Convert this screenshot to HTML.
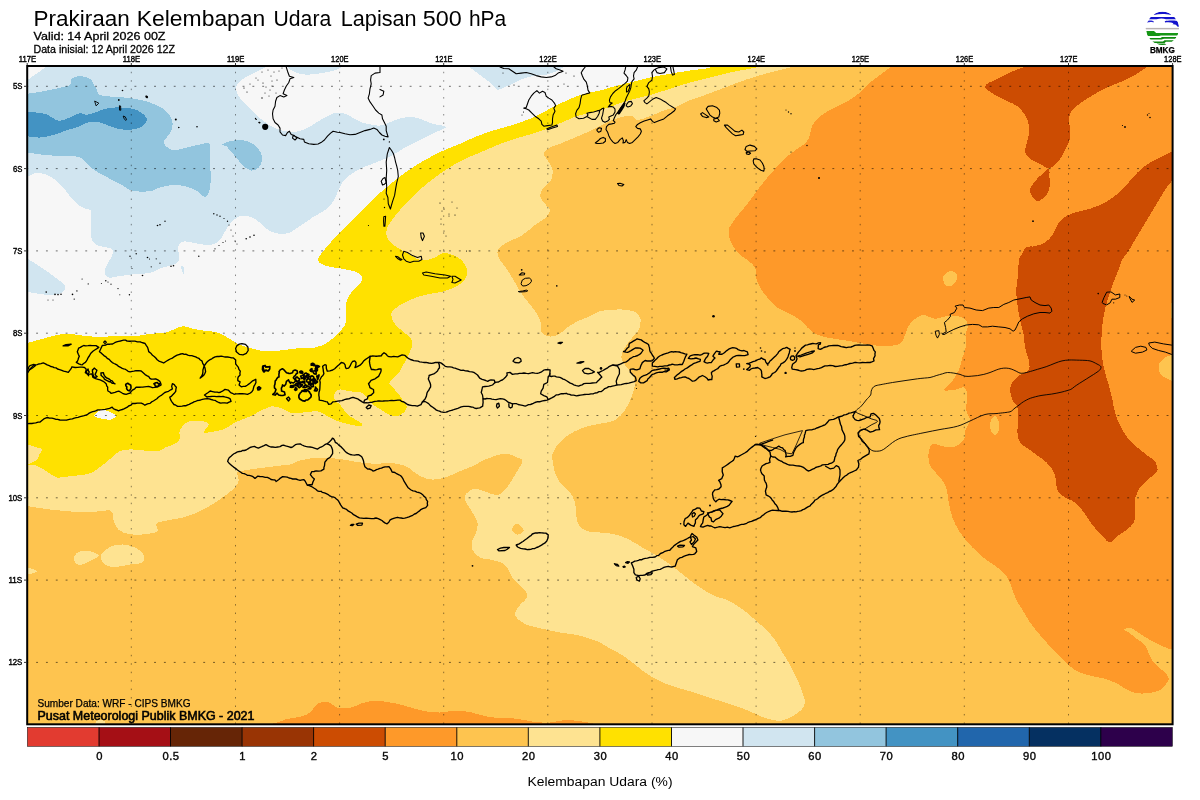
<!DOCTYPE html>
<html><head><meta charset="utf-8"><title>Prakiraan Kelembapan Udara Lapisan 500 hPa</title>
<style>html,body{margin:0;padding:0;background:#fff;}body{width:1200px;height:800px;overflow:hidden;}svg{display:block;will-change:transform;}text{font-family:"Liberation Sans",sans-serif;fill:#000;}</style>
</head><body>
<svg width="1200" height="800" viewBox="0 0 1200 800">
<rect x="0" y="0" width="1200" height="800" fill="#ffffff"/>
<defs><clipPath id="mapclip"><rect x="27.2" y="66" width="1145.4" height="658.3"/></clipPath></defs>
<g clip-path="url(#mapclip)">
<g shape-rendering="crispEdges">
<rect x="20" y="55" width="1165" height="680" fill="#fec44f"/>
<path fill="#fe9929" d="M890 55L890 67.5C890 67.5 883.3 72.5 880 75C876.7 77.5 873.3 79.6 870 82.5C866.7 85.4 863.8 89.4 860 92.5C856.2 95.6 852.1 98.5 847.5 101.2C842.9 104 837.1 106.2 832.5 108.8C827.9 111.2 823.3 113.5 820 116.2C816.7 119 814.2 121.9 812.5 125C810.8 128.1 811 132.1 810 135C809 137.9 808.3 140.2 806.2 142.5C804.2 144.8 800.6 146.5 797.5 148.8C794.4 151 790.8 153.3 787.5 156.2C784.2 159.2 780.8 162.7 777.5 166.2C774.2 169.8 770.8 173.5 767.5 177.5C764.2 181.5 760.8 185.6 757.5 190C754.2 194.4 751 199.2 747.5 203.8C744 208.3 739 213.8 736.2 217.5C733.5 221.2 730.6 224.9 729.5 227.5C728.4 230.1 728.3 232.2 728.8 235C729.2 237.8 730.6 241.7 732.5 245C734.4 248.3 737.6 252.6 740 255C742.4 257.4 745 257.9 747.5 260C750 262.1 753.5 264.6 755 267.5C756.5 270.4 755.4 274.2 756.2 277.5C757.1 280.8 758.1 284.2 760 287.5C761.9 290.8 764.6 294.2 767.5 297.5C770.4 300.8 773.8 304.8 777.5 307.5C781.2 310.2 786.2 311.7 790 313.8C793.8 315.8 797.1 317.7 800 320C802.9 322.3 805 325.2 807.5 327.5C810 329.8 811.7 332.1 815 333.8C818.3 335.4 822.9 336.5 827.5 337.5C832.1 338.5 837.5 339.2 842.5 340C847.5 340.8 852.5 341.7 857.5 342.5C862.5 343.3 867.9 344.4 872.5 345C877.1 345.6 880.4 346.5 885 346.2C889.6 346 896.7 345.6 900 343.8C903.3 341.9 903.3 338.3 905 335C906.7 331.7 907.1 327.1 910 323.8C912.9 320.4 918.3 315.8 922.5 315C926.7 314.2 930.4 318.7 935 318.8C939.6 318.8 945.4 315.7 950 315.5C954.6 315.3 959.5 315.9 962.5 317.5C965.5 319.1 967.5 322.1 968 325C968.5 327.9 965.8 331.7 965.5 335C965.2 338.3 966.8 341.2 966.2 345C965.8 348.8 963.8 353.3 962.5 357.5C961.2 361.7 960.6 365.8 958.8 370C956.9 374.2 953.7 379.3 951.2 382.5C948.8 385.7 943.3 388.8 943.8 390C944.2 391.2 950.3 390.4 953.8 390C957.2 389.6 962.3 386.5 964.5 387.5C966.7 388.5 966.7 392.8 967 396.2C967.3 399.7 965.8 406 966.2 410C966.8 414 970.1 416.7 970 420C969.9 423.3 966.5 426.7 965.5 430C964.5 433.3 965.7 437.2 963.8 440C961.8 442.8 957.3 446 953.8 447C950.2 448 946 446.8 942.5 446.2C939 445.7 934.8 442.7 932.5 443.8C930.2 444.8 929.4 449.8 928.8 452.5C928.1 455.2 928.3 457.5 928.8 460C929.2 462.5 929.6 465 931.2 467.5C932.9 470 937.5 474.2 940 477.5C942.5 480.8 944.8 483.3 946.2 487.5C947.7 491.7 947.7 497.5 948.8 502.5C949.8 507.5 950.6 512.5 952.5 517.5C954.4 522.5 956.7 527.5 960 532.5C963.3 537.5 968.3 543.1 972.5 547.5C976.7 551.9 980.8 555.4 985 558.8C989.2 562.1 993.8 564.4 997.5 567.5C1001.2 570.6 1005 573.8 1007.5 577.5C1010 581.2 1010.9 586.1 1012.5 590C1014.1 593.9 1015.3 597.7 1017 601C1018.7 604.3 1020.4 606.6 1022.5 610C1024.6 613.4 1027.1 618.3 1030 622.5C1032.9 626.7 1036.7 631 1040 635C1043.3 639 1046.7 642.7 1050 646.2C1053.3 649.8 1056.7 652.9 1060 656.2C1063.3 659.6 1066.7 663.5 1070 666.2C1073.3 669 1076.2 670.8 1080 672.5C1083.8 674.2 1088.3 675.2 1092.5 676.2C1096.7 677.3 1100.8 677.5 1105 678.8C1109.2 680 1113.8 681.9 1117.5 683.8C1121.2 685.6 1124.2 688.4 1127.5 690C1130.8 691.6 1133.8 692.8 1137.5 693.2C1141.2 693.8 1146.2 693.5 1150 693C1153.8 692.5 1157.3 691.5 1160 690C1162.7 688.5 1164.9 685.4 1166.2 683.8C1167.6 682.1 1169 680.6 1168.8 678.8C1168.5 676.9 1166.9 674.6 1165 672.5C1163.1 670.4 1159.8 668.5 1157.5 666.2C1155.2 664 1152.9 661.5 1151.2 658.8C1149.6 656 1148.7 652.5 1147.5 650C1146.3 647.5 1145.7 645.7 1143.8 643.8C1141.8 641.8 1137.4 639.3 1135 637.5C1132.6 635.7 1130.6 633.8 1128.8 632.5C1126.9 631.2 1123.3 630.2 1123.8 629.5C1124.2 628.8 1128.5 627.5 1131.2 628.2C1134 629 1136.9 631.8 1140 633.8C1143.1 635.7 1146.7 638.1 1150 640C1153.3 641.9 1156.9 643.5 1160 645C1163.1 646.5 1167.4 648.3 1168.8 648.8C1170.1 649.2 1172.5 649.5 1172.5 649.5L1185 649.5L1185 55L890 55Z"/>
<path fill="#fe9929" d="M270 735L270 724C270 724 274.7 723.3 277.5 722.5C280.3 721.7 283.8 719.7 287.5 718.8C291.2 717.8 296.2 718 300 717C303.8 716 307.1 714.7 310 712.5C312.9 710.3 314.6 705.5 317.5 703.8C320.4 702 324.2 701.4 327.5 702C330.8 702.6 333.8 706.5 337.5 707.5C341.2 708.5 345.8 708.8 350 708C354.2 707.2 358.3 704.2 362.5 703C366.7 701.8 370.8 700.9 375 700.8C379.2 700.6 383.3 701.4 387.5 702C391.7 702.6 395.8 703.5 400 704.5C404.2 705.5 408.3 706.9 412.5 708C416.7 709.1 420.4 710.5 425 711.2C429.6 712 435 712.6 440 712.5C445 712.4 450 710.8 455 710.8C460 710.7 465 711.1 470 712C475 712.9 480 715.2 485 716.2C490 717.2 494.6 717.6 500 718C505.4 718.4 511.7 718.1 517.5 718.8C523.3 719.4 529.6 721.4 535 722C540.4 722.6 545 722.8 550 722.5C555 722.2 560 720.2 565 720C570 719.8 575 720.6 580 721.2C585 721.9 595 723.8 595 723.8L600 735L270 735Z"/>
<path fill="#fec44f" d="M943 279C942.8 277 943.8 275.3 945 274C946.2 272.7 948.2 271.2 950 271C951.8 270.8 954.8 271.7 956 273C957.2 274.3 957.5 277 957 279C956.5 281 954.8 283.8 953 285C951.2 286.2 947.7 287 946 286C944.3 285 943.2 281 943 279Z"/>
<path fill="#fec44f" d="M990 426C989.9 423.7 990.7 420.6 991.5 419C992.3 417.4 993.8 415.7 995 416C996.2 416.3 997.9 418.8 998.5 421C999.1 423.2 999.4 427.8 999 430C998.6 432.2 997.2 434.5 996 435C994.8 435.5 992.9 434.4 992 433C991.1 431.6 990.1 428.3 990 426Z"/>
<path fill="#fec44f" d="M1185 355L1172.5 355C1172.5 355 1167.3 355.8 1165 357.5C1162.7 359.2 1159.4 362.1 1158.8 365C1158.1 367.9 1159 372.3 1161.2 375C1163.5 377.7 1172.5 381.2 1172.5 381.2L1185 381.2L1185 355Z"/>
<path fill="#fec44f" d="M1185 301L1172 301C1172 301 1170.5 306.8 1170.5 310C1170.5 313.2 1172 320 1172 320L1185 320L1185 301Z"/>
<path fill="#cc4c02" d="M1022.5 55L1022.5 67.5C1022.5 67.5 1014.2 70.6 1010 72.5C1005.8 74.4 1001.7 76.5 997.5 78.8C993.3 81 985.4 83.5 985 86.2C984.6 89 991.2 92.5 995 95C998.8 97.5 1003.8 99.4 1007.5 101.2C1011.2 103.1 1014.6 104 1017.5 106.2C1020.4 108.5 1023.1 111.9 1025 115C1026.9 118.1 1028.1 121.7 1028.8 125C1029.4 128.3 1029.2 131.7 1028.8 135C1028.3 138.3 1026.9 142.2 1026.2 145C1025.6 147.8 1024.4 150.2 1025 152.5C1025.6 154.8 1027.6 156.9 1030 158.8C1032.4 160.6 1036.9 162.2 1040 163.8C1043.1 165.3 1045.8 168.2 1048.8 168C1051.7 167.8 1055 165.1 1057.5 162.5C1060 159.9 1061.9 155.8 1063.8 152.5C1065.6 149.2 1067.7 145.2 1068.8 142.5C1069.8 139.8 1070.4 137.9 1070.5 135C1070.6 132.1 1069.6 128.5 1069.5 125C1069.4 121.5 1069.1 116.7 1070 113.8C1070.9 110.8 1072.8 109.6 1075 107.5C1077.2 105.4 1081.2 102.5 1085 100C1088.8 97.5 1093.3 94.8 1097.5 92.5C1101.7 90.2 1105.8 88.1 1110 86.2C1114.2 84.4 1118.3 83.1 1122.5 81.2C1126.7 79.4 1131 77.3 1135 75C1139 72.7 1146.2 67.5 1146.2 67.5L1146.2 55L1022.5 55Z"/>
<path fill="#cc4c02" d="M1048.8 168.8C1047.6 168.1 1044.8 171.7 1042.5 173.8C1040.2 175.8 1037.1 178.3 1035 181.2C1032.9 184.2 1029.7 187.9 1030 191.2C1030.3 194.6 1034.3 200.6 1037 201.2C1039.7 201.9 1044.2 197.3 1046.2 195C1048.3 192.7 1049 190.4 1049.5 187.5C1050 184.6 1049.6 180.6 1049.5 177.5C1049.4 174.4 1049.9 169.4 1048.8 168.8Z"/>
<path fill="#cc4c02" d="M1185 151.2L1172.5 151.2C1172.5 151.2 1166.2 154.4 1162.5 156.2C1158.8 158.1 1154.2 159.8 1150 162.5C1145.8 165.2 1141.2 169 1137.5 172.5C1133.8 176 1130.8 180.2 1127.5 183.8C1124.2 187.3 1121.2 190.6 1117.5 193.8C1113.8 196.9 1109.6 200 1105 202.5C1100.4 205 1095 207.1 1090 208.8C1085 210.4 1079.4 211 1075 212.5C1070.6 214 1066.7 215.4 1063.8 217.5C1060.8 219.6 1059.4 222.1 1057.5 225C1055.6 227.9 1054.6 232.1 1052.5 235C1050.4 237.9 1047.9 240.6 1045 242.5C1042.1 244.4 1038.1 245.4 1035 246.2C1031.9 247.1 1028.8 245.6 1026.2 247.5C1023.8 249.4 1020.5 256.6 1020 257.5C1019.5 258.4 1018.9 258.9 1018.8 260C1018.6 261.1 1018.4 270 1018 275C1017.6 280 1016.3 285 1016.2 290C1016.2 295 1016.9 300 1017.5 305C1018.1 310 1019 315 1020 320C1021 325 1022.9 330.4 1023.8 335C1024.6 339.6 1024.2 343.3 1025 347.5C1025.8 351.7 1028.1 356.3 1028.8 360C1029.4 363.7 1030.2 367.5 1028.8 370C1027.3 372.5 1022.7 372.9 1020 375C1017.3 377.1 1014.2 380 1012.5 382.5C1010.8 385 1010 387.1 1010 390C1010 392.9 1011.2 397.1 1012.5 400C1013.8 402.9 1016.6 404.2 1017.5 407.5C1018.4 410.8 1018 415.8 1018 420C1018 424.2 1017.2 428.8 1017.5 432.5C1017.8 436.2 1017.9 439.6 1020 442.5C1022.1 445.4 1026.7 447.5 1030 450C1033.3 452.5 1038.6 456.5 1040 457.5C1041.4 458.5 1042.5 458.9 1043.8 460C1045 461.1 1048.1 463.8 1050 466.2C1051.9 468.8 1053.8 471.3 1055 475C1056.2 478.7 1055.9 486.3 1057.5 490C1059.1 493.7 1062.1 495.4 1065 497.5C1067.9 499.6 1071.7 499.8 1075 502.5C1078.3 505.2 1082.1 510 1085 513.8C1087.9 517.5 1089.6 521.2 1092.5 525C1095.4 528.8 1099.9 533.6 1102.5 536.2C1105.1 538.9 1107.5 542.5 1110 542.5C1112.5 542.5 1114.8 538.3 1117.5 536.2C1120.2 534.2 1123.5 532.3 1126.2 530C1129 527.7 1132.3 525.8 1133.8 522.5C1135.2 519.2 1134.7 514.2 1135 510C1135.3 505.8 1134.7 501.2 1135.5 497.5C1136.3 493.8 1138 490.4 1140 487.5C1142 484.6 1145 482.3 1147.5 480C1150 477.7 1153.8 475 1155 473.8C1156.2 472.5 1157.3 471.7 1157.5 470C1157.7 468.3 1156.9 465.4 1156.2 463.8C1155.6 462.1 1154.8 461 1153.8 460C1152.7 459 1151.4 458.5 1150 457.5C1148.6 456.5 1141.2 450.8 1137.5 447.5C1133.8 444.2 1130.4 441.2 1127.5 437.5C1124.6 433.8 1122.1 429.2 1120 425C1117.9 420.8 1116.2 416.7 1115 412.5C1113.8 408.3 1113.5 404.6 1112.5 400C1111.5 395.4 1110 389.6 1108.8 385C1107.5 380.4 1106 376.7 1105 372.5C1104 368.3 1103.1 364.6 1102.5 360C1101.9 355.4 1101.3 350 1101.2 345C1101.2 340 1101.6 335 1102 330C1102.4 325 1102.8 320 1103.8 315C1104.7 310 1106 305 1107.5 300C1109 295 1110.8 289.6 1112.5 285C1114.2 280.4 1115.9 276.7 1117.5 272.5C1119.1 268.3 1120.4 263.2 1122 260C1123.6 256.8 1125.6 255.5 1127.5 252.5C1129.4 249.5 1132.5 244.2 1135 240C1137.5 235.8 1140 231.7 1142.5 227.5C1145 223.3 1147.5 219.2 1150 215C1152.5 210.8 1155 206.7 1157.5 202.5C1160 198.3 1162.5 193.8 1165 190C1167.5 186.2 1172.5 180 1172.5 180L1185 180L1185 151.2Z"/>
<path fill="#fee391" d="M20 506.2L27.5 506.2C27.5 506.2 42.1 508.6 50 509.5C57.9 510.4 67.5 511.4 75 511.8C82.5 512.1 89 511.9 95 511.8C101 511.6 107.6 509.2 110.8 510.8C113.9 512.3 112.4 518 113.8 521.2C115.1 524.5 116 527.8 118.8 530C121.5 532.2 125.6 533.5 130 534.2C134.4 535 140.4 534.8 145 534.2C149.6 533.8 155.6 533 157.5 531.2C159.4 529.5 155 525.5 156.2 523.8C157.5 522 161.6 521.6 165 520.8C168.4 519.9 178.3 519 185 517C191.7 515 198.8 512 205 508.8C211.2 505.5 217.5 501 222.5 497.5C227.5 494 232.8 489.8 235 487.5C237.2 485.2 238.3 482.5 238.8 480C239.2 477.5 235.6 474.2 237.5 472.5C239.4 470.8 245.2 470.3 250 469.5C254.8 468.7 269.3 467 275 466.2C280.7 465.5 287.2 465.1 290 464.5C292.8 463.9 294.5 462.4 297 461.5C299.5 460.6 302 460 305 459.4C308 458.8 311.2 458.2 315 458C318.8 457.8 323.3 457.8 327.5 458C331.7 458.2 335.8 458.5 340 459C344.2 459.5 348.3 460.6 352.5 461.2C356.7 461.9 360.8 462.6 365 463C369.2 463.4 373.3 463.8 377.5 463.8C381.7 463.8 385.8 462.8 390 463C394.2 463.2 399.4 464.1 402.5 465C405.6 465.9 407.3 467 410 468.8C412.7 470.5 416.2 474.5 420 476.2C423.8 478 428.3 479.3 432.5 479.5C436.7 479.7 440.4 478.9 445 477.5C449.6 476.1 455 473.3 460 471.2C465 469.2 471.5 466.6 475 465C478.5 463.4 481.5 461.1 483.8 460C486 458.9 487.7 458.8 490 458C492.3 457.2 494.6 455.7 497.5 455C500.4 454.3 504.2 453.3 507.5 453.8C510.8 454.2 515.4 456.5 517.5 457.5C519.6 458.5 522.8 458.7 522.5 461C522.2 463.3 517.9 470.2 515 475C512.1 479.8 507.3 487.4 505 490C502.7 492.6 500.4 494.6 497.5 495C494.6 495.4 491.2 493.5 487.5 492.5C483.8 491.5 478.5 488.5 475 488.8C471.5 489 467.9 491.9 466.2 493.8C464.6 495.6 464.2 497.7 465 500C465.8 502.3 470.4 508.8 472.5 512.5C474.6 516.2 476.9 519.2 477.5 522.5C478.1 525.8 477.1 529.6 476.2 532.5C475.4 535.4 473.1 537.1 472.5 540C471.9 542.9 471.2 547.1 472.5 550C473.8 552.9 476.7 555.8 480 557.5C483.3 559.2 488.3 558.8 492.5 560C496.7 561.2 501.7 562.1 505 565C508.3 567.9 509.6 573.8 512.5 577.5C515.4 581.2 520.1 584.5 522.5 587.5C524.9 590.5 527.9 593.3 527.5 596.2C527.1 599.2 522.1 602.3 520 605C517.9 607.7 515.4 610.2 515 612.5C514.6 614.8 515.7 616.9 517.5 618.8C519.3 620.6 523.3 623.3 527.5 625C531.7 626.7 537.1 627.5 542.5 628.8C547.9 630 554.2 631.5 560 632.5C565.8 633.5 572.6 634 577.5 635C582.4 636 586.2 637.5 590 638.8C593.8 640 597.1 641.1 600 642.5C602.9 643.9 604.6 645.4 607.5 647C610.4 648.6 615.8 651.2 620 653.8C624.2 656.3 628.3 659.4 632.5 662.5C636.7 665.6 640.8 669.6 645 672.5C649.2 675.4 652.9 677.7 657.5 680C662.1 682.3 667.1 684.4 672.5 686.2C677.9 688.1 684.2 689.5 690 691.2C695.8 693 701.7 695.1 707.5 697C713.3 698.9 719.6 700.8 725 702.5C730.4 704.2 735.4 705.8 740 707.5C744.6 709.2 748.8 710.9 752.5 712.5C756.2 714.1 759.2 715.8 762.5 717C765.8 718.2 769.2 719.4 772.5 720C775.8 720.6 779.2 721.1 782.5 720.5C785.8 719.9 789.4 718 792.5 716.2C795.6 714.5 799.2 712.3 801.2 710C803.3 707.7 804.8 705.4 805 702.5C805.2 699.6 803.7 696.2 802.5 692.5C801.3 688.8 799.6 684.6 797.5 680C795.4 675.4 792.5 669.6 790 665C787.5 660.4 785 656.7 782.5 652.5C780 648.3 777.9 644 775 640C772.1 636 768.8 632.5 765 628.8C761.2 625 756.7 621 752.5 617.5C748.3 614 744.2 610.4 740 607.5C735.8 604.6 731.7 601.9 727.5 600C723.3 598.1 719.5 598.3 715 596.2C710.5 594.2 705 590.8 700 587.5C695 584.2 689.6 579.8 685 576.2C680.4 572.7 677.1 569.6 672.5 566.2C667.9 562.9 662.5 559.4 657.5 556.2C652.5 553.1 647.5 550.4 642.5 547.5C637.5 544.6 632.5 541 627.5 538.8C622.5 536.5 617.1 534.8 612.5 533.8C607.9 532.7 604.2 532.9 600 532.5C595.8 532.1 591 532.5 587.5 531.2C584 530 580.6 527.7 578.8 525C576.9 522.3 576.9 518.8 576.2 515C575.6 511.2 576 506.2 575 502.5C574 498.8 572.5 495.8 570 492.5C567.5 489.2 562.5 485.8 560 482.5C557.5 479.2 556.2 476.2 555 472.5C553.8 468.8 552.8 462.4 552.5 460C552.2 457.6 551.7 456 552.5 453.8C553.3 451.5 555.4 447.7 557.5 445C559.6 442.3 562.1 439.8 565 437.5C567.9 435.2 571.2 433.1 575 431.2C578.8 429.4 583.3 427.5 587.5 426.2C591.7 425 595.4 424.8 600 423.8C604.6 422.7 610.8 422.3 615 420C619.2 417.7 622.3 413.8 625 410C627.7 406.2 629.6 401.7 631.2 397.5C632.9 393.3 634.8 388.8 635 385C635.2 381.2 634.2 378.3 632.5 375C630.8 371.7 626.7 367.7 625 365C623.3 362.3 621.2 360.4 621.2 357.5C621.2 354.6 623.1 350.8 625 347.5C626.9 344.2 630.2 340.4 632.5 337.5C634.8 334.6 637.4 333.1 638.8 330C640.1 326.9 641.1 321.8 640.5 318.8C639.9 315.8 637.9 313.5 635 312C632.1 310.5 626.7 309.8 622.5 309.5C618.3 309.2 613.8 309.7 610 310C606.2 310.3 603.3 310.2 600 311.2C596.7 312.3 593.8 314.6 590 316.2C586.2 317.9 581.2 319.4 577.5 321.2C573.8 323.1 570.8 325.2 567.5 327.5C564.2 329.8 560.8 333.5 557.5 335C554.2 336.5 550.2 336.9 547.5 336.2C544.8 335.6 542.5 334 541.2 331.2C540 328.5 541.5 324 540 320C538.5 316 535.4 311.7 532.5 307.5C529.6 303.3 525.4 299.2 522.5 295C519.6 290.8 517.5 286.7 515 282.5C512.5 278.3 510 273.8 507.5 270C505 266.2 501.5 262.6 500 260C498.5 257.4 497.5 254.7 497.5 252.5C497.5 250.3 498.3 248.6 500 247C501.7 245.4 506.2 243 510 241C513.8 239 518.3 237.7 522.5 235C526.7 232.3 531.1 227.9 535 225C538.9 222.1 543.7 219.8 546 217.5C548.3 215.2 550 212.1 550 210C550 207.9 547.4 207 546 205C544.6 203 540.4 198.9 540 196C539.6 193.1 541.9 190.2 543.8 187.5C545.6 184.8 549.5 182.9 551 180C552.5 177.1 553.1 173.3 552.5 170C551.9 166.7 548.8 162.4 547.5 160C546.2 157.6 543.3 155.8 543.8 153.8C544.2 151.7 547.3 149.2 550 147.5C552.7 145.8 556.2 145.3 560 143.8C563.8 142.2 570 139.6 575 137.5C580 135.4 586.1 132.8 590 131C593.9 129.2 596.2 127.8 600 126C603.8 124.2 608.3 121.6 612.5 120C616.7 118.4 622.2 116.8 625 116.2C627.8 115.7 630.4 115.6 632.5 116.2C634.6 116.9 635.1 120 637.5 120C639.9 120 645.4 117.9 650 116.2C654.6 114.6 661.3 111.3 665 110C668.7 108.7 671.3 108.9 675 107.5C678.7 106.1 682.6 103.3 687.5 101.2C692.4 99.2 698.8 97.3 705 95C711.2 92.7 718.3 90 725 87.5C731.7 85 738.3 82.3 745 80C751.7 77.7 758.3 75.6 765 73.8C771.7 71.9 781.2 69.7 785 68.8C788.8 67.8 795 66 795 66L795 55L20 55L20 506.2Z"/>
<path fill="#fee391" d="M74.5 556.2C75.3 554.4 77.4 552.1 80 551.2C82.6 550.4 86.9 550.5 90 551.2C93.1 552 98.8 553.8 98.8 555.5C98.8 557.2 93.1 559.7 90 561.2C86.9 562.8 82.1 564.8 80 565C77.9 565.2 75.9 564 75 562.5C74.1 561 73.7 558.1 74.5 556.2Z"/>
<path fill="#fee391" d="M100.8 555.8C101.6 552.8 106.4 548.9 110 547C113.6 545.1 118.3 544.4 122.5 544.5C126.7 544.6 131.5 545.8 135 547.5C138.5 549.2 142.5 552.5 143.8 555C145 557.5 144.8 560.9 142.5 562.5C140.2 564.1 134.6 563.8 130 564.5C125.4 565.2 118.9 567 115 567C111.1 567 107.4 566.4 105 564.5C102.6 562.6 99.9 558.7 100.8 555.8Z"/>
<path fill="#fee391" d="M20 567.5L27.5 567.5C27.5 567.5 37.5 570.1 37.5 571.2C37.5 572.4 27.5 574.5 27.5 574.5L20 574.5L20 567.5Z"/>
<path fill="#fee391" d="M94 726L96 721.5C96 721.5 98.5 719.5 100 719.5C101.5 719.5 105 721.5 105 721.5L106 726L94 726Z"/>
<path fill="#fec44f" d="M512 529.5C511.9 527.7 515 523.6 517 523.8C519 523.9 523.7 528.7 523.8 530.5C523.8 532.3 519.5 534.7 517.5 534.5C515.5 534.3 512.1 531.3 512 529.5Z"/>
<path fill="#ffe100" d="M20 444.4L27.5 444.4C27.5 444.4 32.6 446.1 35 446.9C37.4 447.7 41.3 448 41.9 449.4C42.5 450.8 39.3 453.7 38.8 455C38.2 456.3 38.9 457.6 38 458.8C37.1 459.9 34.1 461.5 32.5 462.5C30.9 463.5 27.4 464.2 28 464.8C28.6 465.3 33.8 464.9 36.2 465.6C38.7 466.3 40.2 467.4 42.5 468.8C44.8 470.1 47.5 472.3 50 473.8C52.5 475.2 55.2 477 57.5 477.5C59.8 478 61.4 477.2 63.8 477C66.1 476.8 69.6 476.3 72.5 476C75.4 475.7 78.1 475.5 81.2 475C84.4 474.5 88.1 474.4 91.2 473C94.4 471.6 97.3 468.9 100 466.9C102.7 464.9 105.2 463.1 107.5 461.2C109.8 459.4 111.9 457.1 113.8 455.6C115.6 454.1 117.4 452.7 118.8 451.9C120.1 451.1 121 450.6 122.5 450.2C124 449.9 128.5 449.4 131.2 449.4C134 449.4 136.5 449.8 138.8 450C141 450.2 142.7 450.4 145 450.6C147.3 450.8 150 451.2 152.5 451.2C155 451.2 157.9 451.2 160 450.6C162.1 450 163 448.4 165 447.5C167 446.6 172.7 445.1 175 443.8C177.3 442.4 179.2 440.6 180 438.8C180.8 436.9 179.1 434.6 179.5 432.5C179.9 430.4 180.8 428.1 182.5 426.2C184.2 424.4 186.7 422.1 190 421.2C193.3 420.4 199.9 420.8 202.5 421.2C205.1 421.7 208.5 422.6 208.8 424.5C209 426.4 202.7 431.4 203.8 432.5C204.8 433.6 211.5 431.9 215 431.2C218.5 430.6 221.7 430.2 225 428.8C228.3 427.3 231.2 424.4 235 422.5C238.8 420.6 243.8 419.2 247.5 417.5C251.2 415.8 254.7 413.9 257.5 412.5C260.4 411.1 262.5 409.8 265 408.8C267.5 407.7 269.6 406.2 272.5 406.2C275.4 406.2 279.6 407.7 282.5 408.8C285.4 409.8 286.9 411.9 290 412.5C293.1 413.1 298.3 412.7 302.5 412.5C306.7 412.3 312.6 411.2 315 411.2C317.4 411.2 319.2 411.7 321.2 412.5C323.3 413.3 325.2 415 327.5 416.2C329.8 417.5 332.3 418.9 335 420C337.7 421.1 340.8 422.2 343.8 423C346.7 423.8 349.8 424.4 352.5 425C355.2 425.6 358.7 426.7 360 426.5C361.3 426.3 362.5 424.8 361.9 423.8C361.3 422.7 358.2 421.2 356.2 420C354.3 418.8 351.9 417.7 350 416.2C348.1 414.8 346.5 412.9 345 411.2C343.5 409.6 342.5 407.7 341.2 406.2C340 404.8 338.6 403.8 337.5 402.5C336.4 401.2 335 400 334.4 398.8C333.8 397.5 333.7 396.2 334 395C334.3 393.8 335.2 392.2 336.2 391.2C337.2 390.3 338.4 389.5 340 389.4C341.6 389.3 343.9 390.2 346.2 390.6C348.6 391 352.6 391.6 355 391.9C357.4 392.2 359.4 391.7 361.2 392.5C363.1 393.3 364.8 395.3 366.2 396.9C367.7 398.5 368.5 400.3 370 401.9C371.5 403.5 372.9 404.8 375 406.2C377.1 407.7 380 409.1 382.5 410.6C385 412.1 387.5 414.1 390 415C392.5 415.9 395.2 416.4 397.5 416C399.8 415.6 402.2 413.9 403.8 412.5C405.3 411.1 406.7 409 406.9 407.5C407.1 406 405.8 405.1 405 403.8C404.2 402.4 402.7 399.6 401.2 397.5C399.8 395.4 397.9 393.1 396.2 391.2C394.6 389.4 392.2 387.3 391.2 386.2C390.3 385.2 389 384.4 389.4 383C389.8 381.6 392 379.5 393.8 377.5C395.5 375.5 398.3 373.5 400 371.2C401.7 369 402.5 366 403.8 363.8C405 361.5 406.5 359.6 407.5 357.5C408.5 355.4 409.2 353.5 410 351.2C410.8 349 412.5 346 412.5 343.8C412.5 341.5 411.6 339.5 410 337.5C408.4 335.5 405.2 333.8 402.5 331.2C399.8 328.8 395.6 325.4 393.8 322.5C391.9 319.6 391 316 391.2 313.8C391.5 311.5 393.3 310.3 395 308.8C396.7 307.2 398.8 305.9 401.2 304.4C403.7 302.9 406.9 301.4 410 300C413.1 298.6 416.7 297.3 420 296.2C423.3 295.2 426.5 294.5 430 293.8C433.5 293 437.7 292.7 441.2 291.9C444.8 291.1 448.3 289.9 451.2 288.8C454.2 287.6 456.7 286.4 458.8 285C460.8 283.6 462.4 282.3 463.8 280.6C465.1 278.9 466.4 277 466.9 275C467.4 273 467.4 270.8 466.9 268.8C466.4 266.8 465.1 264.8 463.8 263C462.4 261.2 460.8 259.4 458.8 258C456.7 256.6 453.5 255.2 451.2 254.4C449 253.6 446.9 253 445 253C443.1 253 441.7 253.7 440 254.4C438.3 255.2 437 256.6 435 257.5C433 258.4 430 259.6 427.5 260C425 260.4 422.5 260.6 420 260C417.5 259.4 415.2 257.7 412.5 256.2C409.8 254.8 406.5 252.8 403.8 251.2C401 249.7 398.6 248.6 396.2 246.9C393.9 245.2 391.1 243.4 389.4 241.2C387.7 239.1 386.5 236.2 386.2 233.8C386 231.2 386.8 228.9 388 226.2C389.2 223.6 391.8 220.2 393.8 217.5C395.8 214.8 397.5 212.7 400 210C402.5 207.3 406.2 203.8 410 200C413.8 196.2 418.3 191.2 422.5 187.5C426.7 183.8 430.8 180.6 435 177.5C439.2 174.4 442.9 171.7 447.5 168.8C452.1 165.8 457.1 162.7 462.5 160C467.9 157.3 474.2 155 480 152.5C485.8 150 491.7 147.3 497.5 145C503.3 142.7 509.2 140.6 515 138.8C520.8 136.9 526.7 135.6 532.5 133.8C538.3 131.9 544.6 129.6 550 127.5C555.4 125.4 560.4 122.9 565 121C569.6 119.1 573.3 117.4 577.5 116C581.7 114.6 586.2 113.5 590 112.5C593.8 111.5 596.2 111.1 600 110C603.8 108.9 610 106.7 615 105C620 103.3 624.2 101.7 630 100C635.8 98.3 643.3 96.9 650 95C656.7 93.1 663.3 90.8 670 88.8C676.7 86.7 683.3 84.4 690 82.5C696.7 80.6 703.3 79.2 710 77.5C716.7 75.8 723.3 74 730 72.5C736.7 71 745.2 69.7 750 68.8C754.8 67.8 762.5 66 762.5 66L762.5 55L20 55L20 444.4Z"/>
<path fill="#f7f7f7" d="M20 343L27.5 343C27.5 343 35.4 340.8 40 339.5C44.6 338.2 50.4 336.5 55 335.5C59.6 334.5 62.9 333.8 67.5 333.8C72.1 333.8 77.1 335 82.5 335.5C87.9 336 94.2 337 100 337C105.8 337 111.7 335.9 117.5 335.8C123.3 335.6 129.6 336.6 135 336.2C140.4 335.9 145 334.3 150 333.8C155 333.2 161 333.8 165 333C169 332.2 171.9 329.9 175 328.8C178.1 327.6 180.8 326.2 183.8 326.2C186.7 326.2 189.1 328 192.5 328.8C195.9 329.5 200.8 330.1 205 330.8C209.2 331.4 213.8 331.4 217.5 332.5C221.2 333.6 224.2 335.6 227.5 337.5C230.8 339.4 233.8 342 237.5 343.8C241.2 345.5 245.4 346.8 250 348C254.6 349.2 260 350.8 265 351.2C270 351.7 274.3 351 280 350.5C285.7 350 294.3 348.5 300 348C305.7 347.5 310.4 348.4 315 347.5C319.6 346.6 323.8 344.8 327.5 342.5C331.2 340.2 334.6 336.7 337.5 333.8C340.4 330.8 343.5 328.1 345 325C346.5 321.9 346 318.8 346.2 315C346.5 311.2 345.4 306.2 346.2 302.5C347.1 298.8 349.2 295.4 351.2 292.5C353.3 289.6 357 287.1 358.8 285C360.5 282.9 362.7 280.8 362.5 278.8C362.3 276.7 360.2 273.9 357.5 272.5C354.8 271.1 347.5 269.8 342.5 268.8C337.5 267.7 331.6 267.7 327.5 266.2C323.4 264.8 318 263.4 318 260C318 256.6 323.8 250.6 327.5 246C331.2 241.4 335.8 236.8 340 232.5C344.2 228.2 348.3 224.2 352.5 220C356.7 215.8 360.8 211.7 365 207.5C369.2 203.3 372.9 199.2 377.5 195C382.1 190.8 387.5 186.5 392.5 182.5C397.5 178.5 402.1 174.8 407.5 171C412.9 167.2 419.2 163.3 425 160C430.8 156.7 436.7 153.7 442.5 151C448.3 148.3 454.2 146.2 460 143.8C465.8 141.2 471.7 138.3 477.5 136C483.3 133.7 489.2 131.8 495 130C500.8 128.2 506.7 126.9 512.5 125C518.3 123.1 524.2 121.2 530 118.8C535.8 116.2 542.1 112.7 547.5 110C552.9 107.3 557.5 104.8 562.5 102.5C567.5 100.2 572.9 97.7 577.5 96C582.1 94.3 586.2 93.4 590 92.5C593.8 91.6 596.2 91.4 600 90.5C603.8 89.6 610 87.6 615 86.2C620 84.9 624.3 83.9 630 82.5C635.7 81.1 643.3 79 650 77.5C656.7 76 663.3 74.9 670 73.8C676.7 72.6 683.8 71.4 690 70.5C696.2 69.6 704.6 68.8 707.5 68.2C710.4 67.7 715 66 715 66L715 55L20 55L20 343Z"/>
<path fill="#f7f7f7" d="M94.4 415.6C94.6 414.6 97.5 412.1 98.8 411.2C100 410.4 101 410 102.5 410C104 410 105.8 410.5 107.5 411C109.2 411.5 111 412.2 112.5 413C114 413.8 116.2 414.6 116.2 415.6C116.2 416.6 113.8 418.1 112.5 418.8C111.2 419.4 110.2 419.8 108.8 419.8C107.3 419.8 104.4 419.1 102.5 418.8C100.6 418.4 98.8 418 97.5 417.5C96.2 417 94.2 416.6 94.4 415.6Z"/>
<path fill="#d1e5f0" d="M20 80L27.5 80L46 67L46 55L266 55L266 67C266 67 262.3 68.9 260 70C257.7 71.1 253.1 73.3 250 75C246.9 76.7 243.3 78.5 241.2 80C239.2 81.5 237.7 83.3 236.9 85C236.1 86.7 235.9 88.1 236.2 90C236.6 91.9 237.5 94.2 238.8 96.2C240 98.3 241.9 100.4 243.8 102.5C245.6 104.6 247.9 106.7 250 108.8C252.1 110.8 254 112.9 256.2 115C258.5 117.1 261.2 119.4 263.8 121.2C266.2 123.1 268.5 124.8 271.2 126.2C274 127.7 276.9 129.1 280 130C283.1 130.9 286.9 131.7 290 131.9C293.1 132.1 295.8 131.9 298.8 131.2C301.7 130.6 304.6 129.5 307.5 128C310.4 126.5 313.3 124.2 316.2 122.5C319.2 120.8 322.3 119 325 117.5C327.7 116 330.2 114.6 332.5 113.8C334.8 112.9 336.7 112.5 338.8 112.5C340.8 112.5 343.1 113.1 345 113.8C346.9 114.4 348.1 115.3 350 116.2C351.9 117.2 357.9 121 362.5 122.5C367.1 124 374.6 125.2 377.5 125.5C380.4 125.8 382.3 125.4 385 124.5C387.7 123.6 391.2 121.2 395 120C398.8 118.8 403.3 117.2 407.5 117C411.7 116.8 415.8 117.6 420 118.8C424.2 119.9 428.2 122.4 432.5 123.8C436.8 125.1 445.6 125.5 446 127C446.4 128.5 438.5 130.8 435 132.5C431.5 134.2 428.3 135.8 425 137.5C421.7 139.2 418.3 140.8 415 142.5C411.7 144.2 408.3 145.6 405 147.5C401.7 149.4 398.3 151.9 395 153.8C391.7 155.6 388.8 157.1 385 158.8C381.2 160.4 376.7 162.1 372.5 163.8C368.3 165.4 363.8 166.9 360 168.8C356.2 170.6 352.9 172.7 350 175C347.1 177.3 344.6 179.6 342.5 182.5C340.4 185.4 339.2 189.2 337.5 192.5C335.8 195.8 334.6 199.6 332.5 202.5C330.4 205.4 328.2 207.6 325 210C321.8 212.4 316.7 214.8 312.5 217.5C308.3 220.2 303.8 223.5 300 226C296.2 228.5 293.3 231.2 290 232.5C286.7 233.8 283.3 234 280 233.8C276.7 233.5 272.9 232.7 270 231.2C267.1 229.8 265.4 227.3 262.5 225C259.6 222.7 256.2 219 252.5 217.5C248.8 216 243.8 215.2 240 216.2C236.2 217.3 232.7 221.1 230 224C227.3 226.9 225.6 230.8 223.9 233.5C222.2 236.2 221.1 238.8 219.5 240.5C217.9 242.2 216.5 243.3 214.2 244C212 244.7 208.7 245.1 205.5 244.9C202.3 244.7 198.5 243.6 195 243C191.5 242.4 186.7 241.3 184.5 241.4C182.3 241.5 180.3 242.4 179.2 244C178.2 245.6 178.4 248.4 178.4 251C178.4 253.6 179.8 257.6 179.2 259.8C178.7 261.9 176.7 263 174.9 264C173.2 265 171.1 265.2 168.8 265.9C166.4 266.6 162.6 267.5 160 268.5C157.4 269.5 155.8 271.1 153 272C150.2 272.9 146.3 273.3 142.5 273.8C138.7 274.2 134.3 274.2 130.2 274.6C126.2 275 121.3 275.9 118 276.4C114.7 276.9 111.4 278 109.2 277.6C107.1 277.2 105.5 275.6 104.9 273.8C104.3 271.9 104.8 269.2 105.8 266.8C106.7 264.3 109.8 260.8 111 258C112.2 255.2 113.3 251.8 112.8 250C112.2 248.2 109.6 248.1 107.5 247.5C105.4 246.9 101.2 246.8 98.8 245.8C96.3 244.7 93.9 243.4 92.6 241.4C91.3 239.4 91.2 236.6 90.9 233.5C90.6 230.4 90.9 225 90.9 221.2C90.9 217.5 91.5 212.4 90.9 210.8C90.3 209.1 88.1 209.8 86.5 209C84.9 208.2 80.7 206.9 77.8 204.6C74.8 202.3 71.6 198.1 69 195C66.4 191.9 64.6 189 62 186.2C59.4 183.5 56.2 180.4 53.2 178.4C50.3 176.4 47.4 174.9 44.5 174C41.6 173.1 38.5 172.6 35.8 173C33 173.4 27.9 176.6 27.9 176.6L20 176.6L20 80Z"/>
<path fill="#d1e5f0" d="M20 258.9L27.9 258.9C27.9 258.9 34.1 262.8 37.5 265C40.9 267.2 44.5 269.5 48 272C51.5 274.5 56.1 278 58.5 279.9C60.9 281.8 63.7 283.1 64.6 285C65.5 286.9 65.3 289.6 63.8 291.2C62.1 292.9 58.5 294.2 55 294.8C51.5 295.3 47.3 294.9 42.8 294.4C38.2 293.9 27.9 292 27.9 292L20 292L20 258.9Z"/>
<path fill="#d1e5f0" d="M287.5 55L287.5 67C287.5 67 288.9 68.7 290 69.4C291.1 70.1 294 71.7 296.2 72.5C298.5 73.3 301 74.1 303.8 74.4C306.5 74.7 309.4 74.6 312.5 74.4C315.6 74.2 319.4 73.5 322.5 73C325.6 72.5 328.8 71.8 331.2 71.2C333.7 70.7 335.9 70.1 337.5 69.4C339.1 68.7 341.2 67 341.2 67L341.2 55L287.5 55Z"/>
<path fill="#d1e5f0" d="M470 55L470 67.5C470 67.5 476.7 72.5 480 75C483.3 77.5 487.1 80.1 490 82.5C492.9 84.9 494.6 88.9 497.5 89.5C500.4 90.1 503.8 87.6 507.5 86C511.2 84.4 515.8 81.7 520 80C524.2 78.3 528.3 76.8 532.5 76C536.7 75.2 540.8 75.8 545 75C549.2 74.2 555.4 71.9 557.5 71C559.6 70.1 562.5 67.5 562.5 67.5L562.5 55L470 55Z"/>
<path fill="#d1e5f0" d="M181 266.8C181 265.8 183.3 265.8 183.6 266.8C183.9 267.7 184 274.6 183.6 274.6C183.2 274.6 181 267.7 181 266.8Z"/>
<path fill="#92c5de" d="M20 93.8L27.5 93.8C27.5 93.8 42.9 91.5 50 90C57.1 88.5 67.9 86.1 70 85C72.1 83.9 69.6 80.2 71.2 78.8C72.9 77.3 76.9 76.2 80 76.2C83.1 76.2 87.3 76.7 90 78.8C92.7 80.8 94.8 86.4 96.2 88.8C97.7 91.1 97.5 93.9 100 95C102.5 96.1 110 96.5 115 97C120 97.5 124.4 97.1 130 98C135.6 98.9 144.2 100.5 150 102.5C155.8 104.5 161.4 107.1 165 110C168.6 112.9 171 116.5 172 120C173 123.5 172.6 127.5 171.2 131.2C169.9 135 163.5 139.4 163.8 142.5C164 145.6 169 149.1 172.5 150C176 150.9 180.4 148.9 185 148C189.6 147.1 196.4 145.1 200 144.5C203.6 143.9 207.8 141.4 209.5 144C211.2 146.6 209.8 154 210 160C210.2 166 210.9 175.2 210.8 180C210.6 184.8 209.5 190.4 208.8 192.5C208 194.6 206.4 197 204.5 196.8C202.6 196.5 200.5 192.9 197.5 191.2C194.5 189.6 189.2 187.3 185 186.2C180.8 185.2 176.7 184.8 172.5 185C168.3 185.2 163.8 186.5 160 187.5C156.2 188.5 154 190.8 150 191.2C146 191.7 137.5 192 132.5 190.8C127.5 189.5 124.6 186.2 120 183.8C115.4 181.3 109.6 178.8 105 176.2C100.4 173.8 96.7 171.9 92.5 168.8C88.3 165.6 85 159.6 80 157.5C75 155.4 68.3 156.7 62.5 156.2C56.7 155.8 50.8 155.6 45 155C39.2 154.4 27.5 152.5 27.5 152.5L20 152.5L20 93.8Z"/>
<path fill="#92c5de" d="M221.2 145C221.9 144.2 226.5 142.1 230 141.2C233.5 140.4 238.8 139.6 242.5 140C246.2 140.4 249.6 141.9 252.5 143.8C255.4 145.6 258.4 148.5 260 151.2C261.6 154 262.2 157.3 262 160C261.8 162.7 260.5 165.8 258.8 167.5C257 169.2 253.8 170.7 251.2 170.5C248.8 170.3 246.2 168.4 243.8 166.2C241.3 164.1 237.9 159.6 235 156.2C232.1 152.9 227.8 147.5 226.2 146.2C224.7 145 220.6 145.8 221.2 145Z"/>
<path fill="#4393c3" d="M20 112L27.5 112C27.5 112 39.8 112.3 45 113.8C50.2 115.2 54.2 120.3 58.8 120.8C63.3 121.2 69.6 117.3 72.5 116.2C75.4 115.2 77.7 113.2 80 113C82.3 112.8 83.8 115.1 86.2 115C88.7 114.9 91.7 113.5 95 112.5C98.3 111.5 103.3 109.1 107.5 108.2C111.7 107.4 115.8 107.4 120 107.5C124.2 107.6 129 107.9 132.5 108.8C136 109.6 138.9 110.8 141.2 112.5C143.6 114.2 146.5 117 146.8 119.2C147 121.5 144.9 124.5 142.5 126.2C140.1 128 136.2 129 132.5 129.5C128.8 130 123.8 129.8 120 129.2C116.2 128.7 113.3 127.4 110 126.2C106.7 125.1 103.8 123.1 100 122.5C96.2 121.9 90.6 121.9 87.5 122.5C84.4 123.1 83 125.1 80 126.2C77 127.4 71.7 128.6 67.5 130C63.3 131.4 59.6 133.2 55 134.5C50.4 135.8 44.6 137.2 40 137.5C35.4 137.8 27.5 136.2 27.5 136.2L20 136.2L20 112Z"/>
</g>
<g stroke="#000" stroke-width="0.9" fill="none">
<line x1="131.3" y1="724.3" x2="131.3" y2="66" stroke-dasharray="1.5 6.95" stroke-dashoffset="-0.4" stroke-opacity="0.5"/>
<line x1="235.5" y1="724.3" x2="235.5" y2="66" stroke-dasharray="1.5 6.95" stroke-dashoffset="-0.4" stroke-opacity="0.5"/>
<line x1="339.6" y1="724.3" x2="339.6" y2="66" stroke-dasharray="1.5 6.95" stroke-dashoffset="-0.4" stroke-opacity="0.5"/>
<line x1="443.7" y1="724.3" x2="443.7" y2="66" stroke-dasharray="1.5 6.95" stroke-dashoffset="-0.4" stroke-opacity="0.5"/>
<line x1="547.8" y1="724.3" x2="547.8" y2="66" stroke-dasharray="1.5 6.95" stroke-dashoffset="-0.4" stroke-opacity="0.5"/>
<line x1="652" y1="724.3" x2="652" y2="66" stroke-dasharray="1.5 6.95" stroke-dashoffset="-0.4" stroke-opacity="0.5"/>
<line x1="756.1" y1="724.3" x2="756.1" y2="66" stroke-dasharray="1.5 6.95" stroke-dashoffset="-0.4" stroke-opacity="0.5"/>
<line x1="860.2" y1="724.3" x2="860.2" y2="66" stroke-dasharray="1.5 6.95" stroke-dashoffset="-0.4" stroke-opacity="0.5"/>
<line x1="964.3" y1="724.3" x2="964.3" y2="66" stroke-dasharray="1.5 6.95" stroke-dashoffset="-0.4" stroke-opacity="0.5"/>
<line x1="1068.5" y1="724.3" x2="1068.5" y2="66" stroke-dasharray="1.5 6.95" stroke-dashoffset="-0.4" stroke-opacity="0.5"/>
<line x1="27.2" y1="86.3" x2="1172.6" y2="86.3" stroke-dasharray="1.9 7.93" stroke-dashoffset="0.9" stroke-opacity="0.62"/>
<line x1="27.2" y1="168.6" x2="1172.6" y2="168.6" stroke-dasharray="1.9 7.93" stroke-dashoffset="0.9" stroke-opacity="0.62"/>
<line x1="27.2" y1="250.9" x2="1172.6" y2="250.9" stroke-dasharray="1.9 7.93" stroke-dashoffset="0.9" stroke-opacity="0.62"/>
<line x1="27.2" y1="333.2" x2="1172.6" y2="333.2" stroke-dasharray="1.9 7.93" stroke-dashoffset="0.9" stroke-opacity="0.62"/>
<line x1="27.2" y1="415.5" x2="1172.6" y2="415.5" stroke-dasharray="1.9 7.93" stroke-dashoffset="0.9" stroke-opacity="0.62"/>
<line x1="27.2" y1="497.8" x2="1172.6" y2="497.8" stroke-dasharray="1.9 7.93" stroke-dashoffset="0.9" stroke-opacity="0.62"/>
<line x1="27.2" y1="580.1" x2="1172.6" y2="580.1" stroke-dasharray="1.9 7.93" stroke-dashoffset="0.9" stroke-opacity="0.62"/>
<line x1="27.2" y1="662.4" x2="1172.6" y2="662.4" stroke-dasharray="1.9 7.93" stroke-dashoffset="0.9" stroke-opacity="0.62"/>
</g>
<g fill="none" stroke="#000" stroke-linejoin="round" stroke-linecap="round">
<path stroke-width="1.35" d="M19.8 374 L22.2 373.7 L24.2 373.2 L26.2 372.9 L27.9 372.5 L28.8 370.9 L30.3 368.7 L31.8 367.3 L33.6 365.4 L35.2 364.9 L37.2 364.6 L38.6 364 L41 363.6 L43.3 362.9 L45.4 363.8 L47.2 364.9 L49.3 365.7 L50.7 366.5 L52.7 366.8 L54.1 367.6 L56.1 367.9 L57.5 369 L59.6 369.6 L61.8 370.3 L63.6 371.1 L65.9 371.7 L68.3 372.4 L70 370.1 L71.1 368.7 L72 366.8 L75.2 367.5 L77.6 367.4 L80 367.2 L82.2 367.1 L84.5 367.5 L86.1 368.9 L86 370.4 L85.3 372.6 L87.9 374.3 L90.1 374.2 L92 373.8 L92.4 375.4 L92.9 377.3 L96.3 378.9 L98 379.3 L100.2 379.9 L103.2 381.3 L104.8 382.5 L106.3 383.9 L106.7 385.8 L107.7 387.2 L107.6 389.2 L107.9 391 L109.8 392 L111 393.3 L113.1 392.8 L115 392.4 L116.8 391.7 L118.8 391.1 L120.4 392 L122.5 393.3 L124.4 394 L126.2 394.3 L128.2 393.6 L130.3 393 L131.1 391.4 L132.4 390.2 L134.7 388.8 L136.1 387.2 L138.1 387.2 L140.5 387.2 L142.7 387.1 L144.5 386.8 L146.6 386.6 L148.6 386.5 L150.4 386.9 L152.4 387.7 L154.8 387.4 L157.2 387 L159.5 386 L161.1 384.9 L160.6 383 L159.8 381.4 L157.8 379.9 L155.7 378.8 L153.2 379.1 L151.3 379.2 L149.9 378.4 L148.8 376.7 L146.8 375.6 L145.1 374.6 L142.9 372.6 L141.2 371 L138.6 370.7 L136 370.7 L133.9 371.1 L132.3 371.3 L130.1 371.9 L128.1 371.3 L126.8 370.2 L125.2 369.2 L123.6 368.8 L121.7 368.1 L120.5 367.3 L118.6 366.4 L117.3 365.2 L115.4 364.1 L114.1 363.5 L112.3 362.6 L110.6 361 L109.2 359.4 L107.2 358.3 L106 356.9 L103.9 355.6 L102.8 354.5 L101.1 352.9 L99.4 351.8 L100.9 348.5 L101.4 347.4 L102.3 345.5 L104.1 345.4 L105.9 345 L107.3 344.2 L109.9 344.2 L112.6 344 L114.7 342.7 L116.6 341.9 L118.6 341.3 L120.4 341 L121.8 340.6 L123.6 340.1 L125.6 340.2 L127.1 341.1 L128.5 341.2 L130.8 341.2 L132.7 341.1 L134.9 341.1 L137.4 341.8 L140.3 341.8 L141.4 342.4 L143.5 343 L145.1 343.5 L146.2 345.4 L147.6 347.4 L148.3 349.7 L148.7 351.6 L150.8 353.2 L152.5 355.3 L154.2 356.5 L155.8 358 L157.2 359.7 L158.9 361.1 L160.4 361.7 L162.3 362.4 L163.7 363 L165.5 361.7 L167.1 360.7 L168.6 359.8 L170.2 359 L172.3 358.1 L173.6 357.2 L175.3 356.2 L177.1 355.2 L178.9 354.6 L180.7 354 L182.7 353.6 L184.1 354.3 L185.8 354.2 L187.8 355.2 L189.6 355.6 L191.8 355.6 L193.9 356.3 L195.7 356.9 L197 357.6 L198.8 358.3 L200.1 359.8 L202.1 361.1 L202.6 363.1 L203.8 365.1 L205 368 L205.4 370.3 L205.6 371.8 L204.9 373.3 L203.8 375.2 L202 376.7 L200.1 378.1 L201.5 376 L202.5 374.4 L202.9 372.1 L202.9 370 L203.5 368.1 L204 366.2 L205.2 364.5 L206.8 362.2 L208.4 360.7 L210.1 359.6 L211.8 358.8 L213.1 357.9 L215.1 356.8 L217.1 356.5 L219.1 356.5 L221.2 356.2 L223.5 356.7 L225.2 357 L227.7 357 L229.7 357.3 L231.6 357.8 L233.5 357.9 L235.7 359.9 L235.6 361.7 L235.7 364 L237 365.6 L238.4 367.4 L238.9 369.3 L240.3 371.2 L239.9 373.1 L240.1 375.1 L238.2 377 L237.8 378.7 L237.8 380.6 L240.1 381.8 L239.1 384.9 L241.3 386.8 L243.3 386.4 L245.3 386.4 L247.2 385.2 L249 383.9 L250.8 382.4 L252.7 380.8 L255.8 379.3 L255.9 382.7 L254.9 384.6 L253.9 386.3 L253.4 388.4 L253 390.1 L252.1 391.4 L250.4 393 L247.5 394.4 L244.9 393.9 L242.3 393.7 L239.8 393.7 L237.3 393.8 L235.7 393.9 L234 394.3 L232.4 393.3 L230.6 392.6 L229.4 391.2 L228.3 390.1 L225 389.4 L222.4 391.2 L220.8 392 L219 392.6 L217.2 392.1 L214.9 392.2 L212.5 391.6 L210.2 391 L208.2 392.5 L206.7 393.5 L204.5 395 L206.9 397 L208.7 396.6 L210.5 396.5 L212.5 396.3 L214.6 396.4 L216.4 396.6 L219 396.3 L221 396.7 L223.1 396.5 L224.7 396.9 L226.7 397.3 L228.5 397.9 L230.2 398.9 L231.1 401.4 L229.1 402.2 L227.2 403.2 L224.8 402.8 L222.6 402.9 L220.7 403.1 L218.8 402.5 L217 401.7 L215 400.3 L213.4 400.1 L211.2 399.5 L209.2 398.9 L207.2 398.7 L205 398.9 L202.3 399.3 L200.6 400 L199 400.4 L197.5 400.5 L195.6 401.3 L193.9 401.8 L192.8 402.7 L191 403.4 L189.2 404.3 L187.7 404.8 L186.1 405.7 L184.2 405.7 L182.2 406.2 L179.7 406.3 L177.6 406.4 L175.8 405.2 L173.9 404.5 L172.5 402.6 L171.5 401.3 L170.6 399.6 L169.8 397.2 L171.3 396.4 L172.5 395 L174.2 393.3 L175.7 391.4 L175.9 389.2 L176.4 387.2 L175.1 386 L174.3 384.6 L172.4 383.7 L171.7 386.4 L172.4 388.9 L170.8 389.8 L168.5 391.3 L166.6 391.9 L164.8 392.5 L163.3 393.7 L161.7 395.1 L160.1 396 L158.3 397.3 L156.9 398.8 L155.3 399.8 L153.4 401 L151.6 401.9 L150.1 403.3 L148.3 403.7 L146.9 404.2 L144.9 405.2 L142.9 403.8 L141.3 403.1 L139.6 403.1 L137.4 403.2 L135 403.5 L132.3 403.5 L130.9 405.2 L128.6 406 L127.3 407.2 L125.4 408.1 L123.9 408.9 L122.3 409.5 L120.1 410.1 L118.5 410.8 L117.1 410.1 L115 409.5 L113.3 408.6 L112.2 407.2 L109.6 408.4 L107.3 408.9 L105.2 409.4 L102.4 409.7 L99.9 409.9 L97.8 409.9 L95.7 410.9 L94.2 411.3 L92.7 411.7 L90.8 412.4 L89.2 413.1 L87.7 414.3 L86.5 414.9 L84.2 415.6 L82.3 416.1 L80.1 416.7 L78.1 417.4 L76.3 417.7 L74.3 418.1 L72.4 418.9 L70.3 419.2 L68.4 419.6 L66.5 420.2 L64.1 420.1 L62.1 420.1 L59.9 420 L57.7 419.3 L56 419.4 L53.9 418.7 L51.9 418.1 L49.3 418.2 L47.5 417.5 L45.6 418.2 L43.8 418.9 L41.9 420.5 L40.1 422.1 L38.1 422.1 L35.8 422.8 L33.9 423.1 L31.9 423.5 L29.8 423.4 L28 423.6 L26.1 423.9 L24.3 423.9 L21.9 423.7 L20 424"/>
<path stroke-width="1.35" d="M76.3 362.3 L77.4 361.2 L78.1 359.5 L78.6 357.7 L79.3 356.4 L78.3 354.3 L77.3 351.7 L77.9 350.2 L78.7 348.1 L80.3 347.3 L82 346.3 L83.7 345.5 L85.6 345.8 L88 345.7 L90.2 345.5 L92 345.6 L94.1 345.7 L96 345.6 L98.8 347.4 L96.6 348.9 L94.7 350 L92.9 351.3 L91.1 352.9 L90 354.7 L89.3 356 L88.2 357.5 L87.2 359.6 L86.1 361.5 L85.1 362.6 L83.5 363.5 L82.2 364.9 L80.9 364.7 L78.9 363.8Z"/>
<path stroke-width="1.3" d="M63.1 345.9 L66 344.6 L71.2 344.2 L68 345.8Z"/>
<path stroke-width="1.3" d="M103.7 342.3 L105 341 L106.3 342.3 L105 343.5Z"/>
<path stroke-width="1.3" d="M28.1 368 L30 365.6 L33.8 364.4 L35.6 365.6 L32.5 368 L29.4 370Z"/>
<path stroke-width="1.4" d="M86.2 371.2 L88.1 369 L88.3 370.7 L89.2 372 L88.8 373.1 L88.3 374.6 L88.6 375.7 L87.2 373.8 L86.5 372.1Z"/>
<path stroke-width="1.4" d="M92.5 369.6 L92.8 369.7 L94.2 368.1 L95.7 369.3 L96.9 370.2 L96.2 372.1 L95.1 374.4 L96.2 375.9 L97.2 376.5 L95.9 377.3 L93.8 377.2 L93.6 375.8 L92.9 374.3 L92.8 372.7 L92.4 371.4Z"/>
<path stroke-width="1.4" d="M100.9 372.9 L103.4 372.6 L103.8 374.4 L104.5 375.6 L105.4 376.9 L106.7 378 L107.8 378.3 L109.7 379.4 L110.8 380.5 L111.9 380.6 L113.1 382.1 L113.8 383.1 L115 383.9 L113.5 383.4 L112.1 383.2 L110.3 381.8 L109 381.7 L107.6 380.9 L106.1 380.2 L104.4 379.1 L103.8 377.7 L102.1 376.3 L101 375.3 L101.1 374.3Z"/>
<path stroke-width="1.6" d="M125.7 384.3 L126.4 384 L127.7 383.2 L128.8 384 L130.2 384.7 L131 386.5 L130.9 388.4 L130.8 388.6 L129.7 390.5 L129.2 390.9 L127.8 390.2 L126.6 388.8 L126.8 386.9 L125.8 385.8Z"/>
<path stroke-width="1.6" d="M153.9 383.8 L155.8 382.8 L157.3 382.6 L158.1 383.6 L159.8 383.8 L158.9 385.3 L157.7 386.6 L156.8 386.3 L155.2 386.1 L154.8 384.5Z"/>
<path stroke-width="1.3" d="M241.9 343.6 L245.5 344.4 L247.9 347 L248.2 350.5 L246.3 353.4 L243 354.9 L239.3 354.3 L236.6 352 L235.6 348.6 L237 345.6 L239.3 344.1Z"/>
<path stroke-width="1.3" d="M262.5 366.5 L265 365.8 L267 367 L270 366.5 L269.5 369.5 L267 371 L264.5 370 L263.5 372 L262.3 369.5Z"/>
<path stroke-width="1.3" d="M257.5 387.5 L259 386.6 L261 388 L259.5 389.4 L258 389Z"/>
<path stroke-width="1.6" d="M272.8 394.4 L274.9 392.6 L276 389.5 L274.5 387.9 L274.4 385.7 L274.9 384.4 L275.1 382.8 L275.2 380.9 L275.9 380.4 L276.6 379 L277.9 377.3 L279 377 L278.9 373.9 L279.3 372.8 L279 371.7 L280.2 369.9 L282.4 368.7 L284.3 370.2 L285.4 371.5 L286.5 372.8 L289 373.4 L290.1 373.5 L292.5 372.7 L293.2 370.7 L295.1 370.1 L297.1 370.8 L297.6 373 L296.1 374 L295.2 375.8 L294.2 376.3 L293.3 377.8 L295.4 380.1 L295.1 381.7 L293.5 383 L290.8 382.2 L290.5 383.4 L289.2 381.5 L288.5 379.8 L286.4 381.4 L285.8 384.2 L284.2 386.1 L282.5 384.9 L282.3 386.4 L281.4 388.2 L281.6 391.1 L284.5 392.1 L285.1 394.8 L282.9 395.5 L281 395.5 L278.7 395 L277.1 393.2 L275.1 395.1Z"/>
<path stroke-width="1.7" d="M298.9 395.2 L300.3 392.9 L301.5 391.9 L302.1 390.6 L304.8 390.4 L306.6 389.7 L307.8 390.7 L309.4 392 L309.9 392.9 L311.1 394.8 L311.2 395.6 L310.9 397.2 L309.5 398.3 L307.7 400 L306 400 L304.8 401.2 L302.3 400.6 L300.6 399.6 L299.4 398.5 L298.9 397.3Z"/>
<path stroke-width="1.7" d="M299.6 379 L299 380.6 L296.8 381.7 L295.6 379.8 L295.5 378.2 L297 377 L298.4 378.1Z"/>
<path stroke-width="1.7" d="M303.9 376.5 L303.3 377.9 L301.4 378.5 L301.1 376.8 L300.7 376 L301.8 375.7 L303.6 374.9Z"/>
<path stroke-width="1.7" d="M309 374.5 L307.1 375 L305.8 376.6 L303.7 375.4 L304.3 373.8 L306 373 L307.3 373.9Z"/>
<path stroke-width="1.7" d="M304.4 382 L304.9 383.1 L303.3 382.6 L302.2 382.4 L302.1 381.6 L303.3 381.4 L304.8 381Z"/>
<path stroke-width="1.7" d="M310.2 380.5 L310.1 382.4 L308.1 382.2 L306.5 381.4 L306.8 379.8 L308 378.5 L309.6 379.2Z"/>
<path stroke-width="1.7" d="M313.8 377.5 L314.2 380 L311.9 380.6 L310.4 378.7 L310.6 376.4 L312.2 375.9 L313.2 376.4Z"/>
<path stroke-width="1.7" d="M301.9 386 L300.8 386.5 L299.3 387.6 L298 386.5 L296.8 385.2 L299.5 384.9 L302.4 384.5Z"/>
<path stroke-width="1.7" d="M309.1 386.5 L306.6 386.9 L305.7 387.3 L303 387.3 L304.1 386 L305.2 384.7 L307.2 385.7Z"/>
<path stroke-width="1.7" d="M313 385 L313.5 386.4 L311.4 387 L310.7 385.5 L311.1 384.7 L311.6 383.8 L314 383.2Z"/>
<path stroke-width="1.7" d="M317.5 382 L316 383 L315.3 383.5 L314.8 382.5 L314.8 381.5 L315 379.1 L316.1 380.9Z"/>
<path stroke-width="1.7" d="M317.5 389.5 L316.8 391 L315.8 390.8 L314.4 390.6 L315.3 389 L315.6 387.2 L316.5 388.6Z"/>
<path stroke-width="1.7" d="M293.9 386.5 L293.1 387.1 L292.3 387.3 L290.4 387.2 L290.6 385.8 L292.2 385.7 L293.9 385.2Z"/>
<path stroke-width="1.7" d="M296.9 389 L296.7 389.7 L295.6 390.4 L294.6 389.5 L295.4 388.8 L295.5 387.4 L296.6 388.5Z"/>
<path stroke-width="1.7" d="M312 370 L312.1 371.6 L310.8 371.2 L310.1 370.5 L310.4 369.7 L310.8 369.2 L311.9 368.7Z"/>
<path stroke-width="1.7" d="M316.1 372.5 L316.1 374.1 L314.7 374 L313.7 373.3 L312.9 371.3 L314.7 370.7 L316 370.9Z"/>
<path stroke-width="1.7" d="M319.4 366.5 L318 367.2 L317.3 367.3 L315.7 367.4 L315.8 365.7 L317.3 365.6 L318 365.8Z"/>
<path stroke-width="1.7" d="M314.6 364.5 L314.2 365.7 L312.8 365.1 L311.2 365.2 L311.3 363.9 L312.7 363.4 L313.7 363.8Z"/>
<path stroke-width="1.7" d="M318.6 377 L318.3 377.7 L317.6 379.8 L317.3 377.6 L316.7 376 L317.8 375.7 L319 375Z"/>
<path stroke-width="1.7" d="M310.9 388.5 L310.1 389 L309.3 389 L308.1 389 L308.9 388.3 L309.3 387.9 L310.4 387.8Z"/>
<path stroke-width="1.7" d="M301.4 382.5 L300.5 383.4 L299.3 383.2 L297.7 383.2 L298.7 382.2 L299.4 382.1 L300.1 381.9Z"/>
<path stroke-width="1.7" d="M305.6 378.5 L304.9 379 L304.3 379.3 L303.6 379 L303.3 377.9 L304.3 377.7 L305.1 377.6Z"/>
<path stroke-width="1.7" d="M312 383.5 L311.3 384.7 L309.6 384.7 L308.5 384 L308.7 383 L309.8 382.9 L310.4 383.1Z"/>
<path stroke-width="1.7" d="M305.7 390.5 L306.4 391.5 L304.6 391.5 L302.9 391.1 L304.4 390.3 L304.6 389.5 L305.9 389.8Z"/>
<path stroke-width="1.7" d="M314.8 380.5 L314 381.3 L313.1 382.6 L313 380.8 L312.5 379.9 L313.2 378.8 L314.4 378.9Z"/>
<path stroke-width="1.7" d="M298 384.5 L297.4 385.3 L296.1 385.6 L294.9 385 L295.6 384.2 L296.2 383.5 L297.6 383.5Z"/>
<path stroke-width="1.7" d="M309.5 376.5 L308.6 377.2 L307.7 377.8 L306.7 377.1 L307 376 L307.7 375.4 L308.5 375.8Z"/>
<path stroke-width="1.7" d="M302.8 372.5 L302.3 373.4 L301.4 373 L300.3 373 L299.8 371.8 L301.1 371.1 L302.4 371.5Z"/>
<path stroke-width="1.7" d="M317.4 369.5 L317.3 370.7 L316.3 370.8 L315.6 370 L315.2 368.8 L316.4 368.9 L317.3 368.3Z"/>
<path stroke-width="1.4" d="M263 366 L265.1 365.3 L265.9 367.4 L267.2 366.6 L269.4 366.9 L269.7 369.2 L268.4 371.1 L266 369.8 L264.5 371.9 L263.4 369.9 L263.5 367.9Z"/>
<path stroke-width="1.6" d="M257.5 388.2 L258.8 387.3 L260.2 388.2 L259.6 389.8 L258 390Z"/>
<path stroke-width="1.3" d="M286.5 398.5 L288.5 397 L290 399 L288.5 401Z"/>
<path stroke-width="1.35" d="M319.2 400.1 L319.2 397.3 L318.8 395.2 L319 392.2 L319.7 390 L319.9 387.6 L320 385.3 L320.2 382.3 L319.7 380.2 L321.5 376.7 L322.9 375.5 L323.9 373.6 L323.4 371.5 L323.2 369.4 L322.6 366.2 L324.8 364.7 L326.2 365.2 L326.3 366.8 L326.3 368.3 L327.3 371.2 L329.9 370.8 L332.7 370 L334.7 368.7 L337.5 366 L339.3 364.5 L341.3 362.5 L343.8 363.1 L345.1 364.9 L345.5 367.3 L346.1 368.5 L348.6 368.2 L350 366.2 L351.2 363.5 L352.5 361.5 L354.7 360.9 L356 362.5 L355.9 365.1 L355 367.6 L357.3 366.6 L360.1 365.2 L361.5 363.8 L362.5 362.7 L363.6 361.1 L364.9 359.9 L367.3 358.3 L370.2 356.4 L372.6 356 L375.3 356.2 L377.3 356.2 L379.1 356 L381.3 355.9 L382.3 354.2 L384 352.8 L386.1 354.1 L387.3 355.7 L388.9 356.7 L391.2 356.8 L393.6 356.4 L395.6 356.6 L397.7 356.9 L399.9 355.9 L402.1 354.9 L405 355.4 L406.9 357.2 L408.8 358.7 L410.4 359.5 L412.1 360 L413.7 360.6 L415.7 360.8 L418.1 361.2 L419.7 361.8 L422.1 362.2 L424.2 362.5 L426 362.4 L428.8 363 L431.5 363.4 L433.5 363 L435.6 362.4 L437.3 362.5 L439.6 362.5 L441.3 363.1 L443.2 364.6 L445.2 366.3 L447.6 366.8 L449.8 366.9 L451.9 367.1 L453.5 367.8 L455.1 368.2 L456.9 368.8 L459.2 369.6 L461 370.3 L463.2 370.2 L465.4 370.8 L467.7 371 L469.5 371.7 L471.9 371.8 L473.8 372.4 L475.5 373.5 L477.5 375 L478.6 376.5 L479.7 378.1 L482.1 379.3 L483.9 379.9 L485.7 380.5 L487.7 381.4 L489.3 380.4 L491 379.9 L494.3 380.1 L495 382.5 L496.8 382.2 L498.5 382 L500.5 380.7 L502.3 380 L503.6 379 L505.2 377.6 L507.2 375 L506.9 372.8 L510 372.4 L512.5 374.4 L515.2 373.9 L517.5 373.9 L519.3 373.3 L521.7 373.3 L523.9 373 L526.4 373.4 L528.6 373.7 L530.7 373.1 L532.4 372.7 L534.8 373.2 L537.4 373.3 L539.1 372.9 L541 372.2 L543.7 370.2 L545.9 369.7 L547.6 369.7 L550.1 369.9 L550 371.6 L549.8 374 L549.7 376 L551.5 376.5 L553 376.1 L554.9 376.2 L556.4 376.8 L558.2 377.1 L559.9 377.4 L561.5 378.1 L563.1 379.1 L564.9 379.7 L567 381 L568.7 382.1 L570.3 383.2 L572.3 383.9 L573.7 384.8 L576.3 385.6 L578.6 386.1 L580.3 385.3 L582.1 384.8 L583.9 383.7 L586 383.4 L587.9 383.4 L590.1 383.4 L592.2 383 L594 382.8 L596.5 382.6 L597.6 381.2 L599.2 379.7 L600.5 378.3 L601.9 377.1 L599.7 374.5 L597.6 372.3 L599.3 372.3 L601.5 371.2 L603 370.5 L604.8 369.4 L607.1 368.2 L608.6 366.9 L610.6 365.8 L612.8 365 L614.8 365.2 L617.6 365.2 L619.4 364.5 L620.9 363.8 L622.3 363.2 L624.1 362.3 L625.7 362.1 L627.3 361.1 L628.7 360 L629.9 358.7 L631.6 357.8 L633.3 356.7 L635.2 356.3 L637.7 355.5 L639.6 354.4 L641.2 353 L642.2 351.5 L643.1 350.2 L641.5 349 L639.9 348.1 L637.7 347.9 L635.3 348 L633 349.4 L631 350.6 L629.2 351.6 L627.6 352.4 L625.8 352.1 L623.5 351.6 L625.2 350.8 L626.1 349.6 L627.4 348 L628.9 347 L629 345 L629.4 343.3 L631.4 342.3 L632.9 341.4 L635.1 340.2 L637.1 338.8 L638.9 339.3 L641.2 339.9 L642.8 341.1 L645.3 342.7 L646.8 343.4 L648.5 344.5 L649 346.3 L649.5 347.9 L649.7 350.1 L650.2 351.9 L651.4 353.2 L652.4 355.3 L653.6 356.7 L654.4 358.2 L652.5 360.7 L650.9 361 L648.5 361 L647 361 L645.1 360.5 L642.3 362.6 L641.6 364.1 L640.8 365.7 L639.9 368.8 L636.8 369.8 L634.7 369.5 L633.1 368.9 L630.2 369.3 L630.3 372.3 L631.6 373.5 L632.9 375 L634.4 376.1 L635.5 377.3 L636.2 380.6 L634.2 381.7 L631.5 382.4 L628.8 383.2 L626.3 383.5 L624.7 383.7 L623 384.2 L621.2 384.7 L619.2 384.8 L617 384.9 L614.7 385.7 L612.3 386.2 L610.7 386.7 L608.7 386.6 L606.7 387.9 L604.8 388.6 L603.3 390 L601.4 391.5 L599 391.7 L596.9 392.8 L595 393 L593.1 393.8 L590.9 393.8 L588.8 394.4 L586.6 394.4 L584.5 394.5 L582.4 394.8 L580.5 395.1 L578.4 395.5 L576.5 395.9 L573.7 395.2 L571.2 395.1 L569.7 394.3 L567.8 394.2 L566.4 393.3 L563.8 393.7 L561.3 393.7 L559.4 394.3 L558.1 394.8 L556.1 394.9 L554.5 396.3 L552.2 397.6 L550.7 398.3 L548.8 399.3 L547.1 400.2 L544.9 400.5 L542.6 400.8 L540.1 401.7 L537.6 401.7 L534.9 402.5 L533.3 403.4 L531.7 404 L530.2 404.6 L528.5 404.7 L526.5 405.6 L525.2 406.1 L522.5 405.4 L519.9 404.8 L518.2 404.5 L516.3 403.7 L514.4 403.6 L512.4 403.8 L510.5 403 L508.5 402.5 L506.2 400.5 L504.4 399.4 L502.5 398.8 L500.2 398.7 L498.1 399.1 L496.1 399.6 L493.9 399.4 L491.9 399.1 L490.3 398.6 L488.4 398.6 L486.8 398.5 L485 399 L483.1 398.6 L483 400.4 L483.1 402.6 L482.8 404.6 L482.7 406.2 L479.8 407.9 L478 408.1 L476.2 408.5 L474.7 408.2 L473.1 407.2 L471.4 407 L468.6 406.4 L466.2 406.3 L463.8 406.4 L461.2 406.9 L459.5 407.7 L457.8 408.3 L456.2 408.8 L454.5 409.3 L452.8 410 L451.4 410.4 L449.4 410.9 L448 411.5 L446.2 412.2 L443.9 412.3 L441 411.9 L439.5 411.1 L437.8 410.7 L436.4 410.2 L434.6 408.6 L432.8 407.3 L431.4 406.4 L429.8 404.9 L428.6 403.6 L426.8 402.5 L425 401.5 L422.4 401.9 L421 404.6 L419.2 405.3 L417.3 406.2 L414.9 405.7 L412.4 405.6 L410.9 405.3 L409.3 405 L407.5 404.5 L405.9 403.4 L403.9 402 L401.6 401.4 L400.1 400.1 L397.8 400.1 L396.1 400.3 L393.7 400.6 L391.9 400.4 L389.3 400.7 L387.7 400.8 L385.6 400.8 L383.2 401 L381.4 401.1 L379 400.8 L377 401.2 L374.9 401.4 L373.1 401.9 L371.9 402.3 L370 402.3 L368.1 402.8 L366.1 402.7 L364.4 402.9 L362.6 402.2 L361.5 401.4 L359.5 400.1 L357.6 398.8 L355.4 398.2 L353 397.3 L351.1 397.9 L348.8 398.9 L347 399 L345.2 399.3 L343.6 400 L341.9 400.6 L339.4 400.9 L337.7 401.1 L335.2 401.6 L332.8 401.9 L331.1 403.9 L328.7 404.3 L327.3 401.8 L325.8 401.6 L324.2 401.2 L322.5 400.7Z"/>
<path stroke-width="1.35" d="M370.1 356.1 L369.9 358.7 L369.4 361.3 L369.8 363.9 L370.2 366.1 L371.4 369.5 L373.1 369.5 L375 369.9 L377 369.7 L379 369 L381 368.9 L381.1 370.9 L380.6 372.4 L379.5 374.5 L378.6 376.4 L377 377.4 L375.1 378.8 L373 379.6 L371.1 380.4 L369.8 382.2 L368.5 383.8 L369.5 385.9 L369.9 387.7 L371.7 388.7 L373.5 389.5 L373.7 392.7 L372.7 393.5 L371.3 395 L368 396.2 L367.4 398.9 L364.5 400.2 L363.8 402.5"/>
<path stroke-width="1.35" d="M438.7 363.2 L439.3 365 L439.5 367.8 L438.3 369.2 L437.5 371 L435.5 372.7 L433.8 373.9 L431.5 374.6 L429.1 375.5 L428.9 376.9 L428.3 379 L429.1 380.7 L430 382.8 L430.6 384.7 L430.6 387.1 L429.7 388.2 L428.8 390.2 L427.8 391.4 L427 393 L426.4 396.1 L425.1 399 L423.9 400.2 L422.5 401.9"/>
<path stroke-width="1.3" d="M495 382.5 L492.5 385 L488.8 386.2 L485 386.5 L482.5 386.9 L481.9 390 L481.2 392.5 L482.5 395 L483.1 398.8"/>
<path stroke-width="1.3" d="M550 373.8 L548.1 377.5 L547.5 382.5 L543.8 384.4 L543.1 388.1 L541.2 391.2 L540.6 393.8 L543.8 395.6 L546.9 396.9 L548.1 399.4"/>
<path stroke-width="1.3" d="M616.9 385 L616.2 381.2 L617.5 377.5 L619.4 373.8 L619.4 369.4 L617.5 366.2 L613 365.2"/>
<path stroke-width="1.3" d="M366.2 407.5 L368.8 405 L371.2 405.6 L370 408.1 L367.5 408.8Z"/>
<path stroke-width="1.3" d="M513 361.2 L515 358.5 L518 357.5 L520.6 358.8 L521.2 361.2 L518.8 362.9 L515 362.5Z"/>
<path stroke-width="1.3" d="M558 343.2 L560 342.3 L562.5 342.3 L560.5 343.6Z"/>
<path stroke-width="1.3" d="M496.9 403.8 L498.8 403.1 L499.4 406.2 L497.5 408.1 L496.5 406.2Z"/>
<path stroke-width="1.3" d="M508.8 403.8 L509 406.9 L510.6 408.1 L512.2 406.9 L512.5 404"/>
<path stroke-width="1.3" d="M582.5 370.6 L585 368.5 L588.8 368.5 L591.2 370 L594.4 371.9 L591.9 373.1 L588.1 373.8 L584.4 373.1Z"/>
<path stroke-width="1.3" d="M577 363.2 L580 362 L583.8 361.7 L581 363Z"/>
<path stroke-width="1.35" d="M638.7 381.3 L639.9 378.3 L641.9 376.6 L643.9 375.5 L645.4 375.1 L647.3 374.3 L649.9 372.6 L652.4 370.3 L654.2 370 L655.8 369.9 L657.3 369.5 L659.5 369 L661.8 368.4 L663.6 368.1 L666.4 368.5 L668.5 368.6 L667.5 370.7 L665.6 370.9 L663.9 371.6 L662.6 372.2 L659.9 372.2 L657.2 372.6 L655.7 373.2 L654.2 373.8 L652.4 374.3 L650.8 376 L649.3 377.7 L648 378.8 L647.1 380.7 L645.5 381.6 L643.5 382.8 L640.8 382.9Z"/>
<path stroke-width="1.35" d="M652.3 366.2 L652.3 363.1 L653.9 361.6 L655 360.2 L656.7 358.7 L658 357.3 L659.7 356 L661.9 355 L664 354.2 L666.4 353.4 L668.2 352.8 L669.3 352.4 L671.5 351.7 L673.5 352 L675.2 351.7 L677.5 351.8 L679.3 352 L680.9 352.6 L682.8 353.1 L684.8 353.9 L686.9 354.2 L685.7 356.3 L685 357.9 L683.8 361.3 L682.3 364.5 L679.8 364.4 L677.7 364.9 L674.8 364.9 L672.2 364.2 L670.7 364.9 L669.2 365 L667.2 365.8 L664.8 365.9 L662.2 366.3 L659.8 366.3 L657.7 366.9 L654.8 366.4Z"/>
<path stroke-width="1.35" d="M674.4 377.5 L675.5 376.5 L677 375 L678.6 373.9 L680.2 372.5 L681.6 371.4 L683.7 370.1 L685 369 L686.8 368.2 L688.3 367.1 L690 365.9 L692.1 364.6 L694 363.3 L696.2 362.6 L698.1 361.8 L700 361.4 L700.4 359.3 L698.6 358.8 L696 358 L694 358.5 L691.1 358.8 L688.3 358.4 L690.2 355.8 L692.5 355.2 L694.9 354.7 L697.8 354.7 L700 355.2 L701.7 354.6 L703.4 353.5 L704.8 353.2 L706.8 353.1 L708.8 353.3 L707.5 356.4 L706.1 357.8 L705 359.6 L704 361.7 L705.7 362.7 L707.3 363.1 L709.2 362.7 L711.2 362.6 L713.2 359.8 L715 358 L712.9 356.2 L714.3 353.8 L716.4 351.2 L717.9 351.5 L720.2 351.8 L718.7 354.2 L722 354.2 L723.6 353.2 L725.1 352.1 L726.8 350.6 L728.7 349.2 L730.5 348.3 L732.7 347.7 L734.6 347.8 L736.4 348.3 L738.1 349.6 L740.1 350.4 L742 350.8 L744 350.5 L745.4 351.2 L747.4 351.9 L748.1 354.6 L744.8 355.6 L742.5 355.7 L739.9 355.5 L738.3 355.5 L736.3 355.7 L734.8 356.3 L733.2 357 L731.8 358.3 L729.9 360.1 L728.7 361.8 L727.8 362.8 L725.7 364 L723.5 365.1 L722.1 365.4 L720 366.1 L718.7 367.5 L717.7 368.7 L716 369.5 L714.3 370.6 L712.6 371.4 L711.4 372.5 L711.6 374.4 L712.2 376.1 L711.8 379.6 L710 379.5 L708.2 380 L706.9 378.2 L705.3 377 L702.5 375.5 L700.7 376.4 L698.9 377.2 L697.6 378.5 L696.2 379.8 L694.5 380.8 L692.4 381.2 L690.6 379.8 L688.9 378.5 L687.1 377.9 L685.1 376.9 L682.9 377.1 L681.4 377.6 L679.2 378 L677.3 378.9 L674.9 379.4Z"/>
<path stroke-width="1.3" d="M665 368.8 L668.8 368.1 L669.4 370 L666.2 371.9 L665 371.9"/>
<path stroke-width="1.3" d="M736.2 363.8 L739.4 363.8 L739.6 366.9 L736.5 367.2Z"/>
<path stroke-width="1.35" d="M746.7 363.6 L749.3 363.1 L751.3 362.3 L752.9 361.6 L754.8 361.1 L756.4 360.5 L757.7 359.7 L759.8 359.1 L761.4 357.9 L762.9 359 L765.2 359.9 L765.7 361.8 L767.1 363.8 L768.9 362.8 L770 361 L771.5 359.9 L772.3 359 L774.1 357.3 L776.1 355.4 L777.7 353.6 L778.7 351.7 L780.4 350.4 L782.6 348.7 L784.9 348.2 L786.7 347.4 L788.3 348.4 L790.2 349.4 L789.6 351.1 L789.3 352.9 L788.5 355.1 L788 356.7 L787.2 358.4 L786.2 359.9 L785.2 361.2 L783.4 362.6 L781 363.8 L780.1 365.9 L778.8 367.3 L777.3 369.5 L776.1 371.2 L774.6 372.5 L772.3 373.7 L771.4 375.3 L770.1 376.8 L768.3 377.5 L766.8 378.2 L764.9 378.5 L763.3 377.7 L761.8 376.9 L761.9 374.8 L761.6 373 L761.5 371.1 L760.6 369.5 L758.8 368.3 L757.6 367.5 L755 368 L752.5 368.3 L750.9 369 L749.5 370.3 L746.9 369.6 L748.3 368.2 L749.9 367 L750.3 365 L748.9 364.1Z"/>
<path stroke-width="1.3" d="M790.3 358.1 L791.2 356.2 L793.2 355.8 L794.7 357.3 L794.5 359.5 L792.5 360.4 L790.8 359.7Z"/>
<path stroke-width="1.35" d="M791.7 367.6 L792.5 364.3 L793.8 363.3 L795.8 361.8 L796.4 360.6 L797 358.7 L796 355.8 L797.4 353.5 L798.6 351.9 L800.2 350.1 L801.7 348.1 L803.6 346.6 L805.5 345.1 L807.5 344.8 L808.7 344.4 L810.5 344 L812.6 343.5 L814.5 343.7 L816.3 343.8 L818.6 342.9 L820.6 342.6 L820.3 344.1 L818.3 344.9 L818.3 347 L818.1 348.7 L820.2 349.3 L822.2 348.5 L823.8 347.5 L825.3 347 L827.3 346.6 L828.7 345.9 L831.3 345.7 L833.6 345.5 L835.8 345.5 L837.7 345.4 L839.3 345.9 L841.1 346.7 L843.6 347 L846.2 347.7 L848.8 347.2 L851.1 347 L853.2 346.2 L854.8 345.4 L856.3 345.1 L858.9 345 L861.4 345.2 L863.6 345.1 L865.5 345.2 L867.5 344.9 L869.7 345.2 L872.1 345.8 L873.3 348.6 L874 350.4 L875.3 351.9 L874.9 354 L875.1 355.5 L874.5 356.9 L873.5 358.6 L874 361 L871.8 361.9 L870.1 362.5 L867.5 362.5 L865.3 362.7 L862.3 362.5 L859.9 362.8 L857.4 362.6 L855.1 362.3 L852.6 363.1 L849.9 363.5 L848.1 364.2 L846.5 364.7 L845.3 364.7 L842.5 365.7 L840 365.9 L837.5 366.3 L835.2 366.5 L832.7 365.7 L830 365.4 L827.3 365.8 L825 365.8 L823.3 366.7 L821.5 367.7 L819.2 368.4 L817.5 368.6 L815.5 369.2 L813.7 369.6 L811.7 369.1 L809.7 369 L806.8 369.4 L805 370.3 L803 370.9 L801.2 371 L799.5 370.7 L797.7 370 L795.6 369.6 L792.3 369.2Z"/>
<path stroke-width="1.3" d="M797.5 356.2 L801.2 355 L806.2 353.1 L811.2 351.5 L814.4 351 L812.5 352.8 L808.1 354.4 L803.8 355.6 L800 356.9Z"/>
<path stroke-width="1.35" d="M227.6 461.4 L228.4 459.3 L229.2 457.8 L231 456.2 L232.6 454.7 L234.3 453.5 L236 452.8 L237.4 451.9 L239.4 451.5 L241.1 451.4 L242.4 450.5 L244.2 450.5 L246.1 450 L248.3 448.6 L250 447.5 L252 446.9 L254.4 446.4 L256.3 447.4 L258.3 448.1 L260 447.3 L261.7 446.7 L264 445.7 L266 444.7 L268.6 446.1 L270.8 447 L272.8 447 L275.3 447.4 L277.6 447 L280 446.6 L282.1 445.4 L283.5 445.1 L285.6 445.8 L287.5 446.3 L289.2 446.8 L291 447.5 L292.8 446.8 L294.1 445.7 L295.4 444.7 L297.5 444.2 L300.2 443.9 L302 445 L304 445.9 L305.6 446.4 L307.8 446.9 L310.1 447 L312.3 447.4 L314.4 448.1 L316 448.6 L317.4 449.1 L319.5 447.7 L321.5 446.9 L323.1 446 L324.8 444.7 L327.1 443.6 L328.5 442.7 L330 441.3 L331.5 439.8 L332.4 438.2 L333.5 438.6 L334.6 440.3 L335.3 442.3 L337.2 443.4 L338.8 445.1 L340.8 446.6 L342.6 448.4 L343.8 449.7 L344.8 450.9 L346.2 452.3 L347.9 453.3 L350.1 454.5 L352.3 454.9 L354.8 455.2 L356.9 454.7 L358.5 454.7 L360.5 455.8 L361.9 457 L362.7 458.7 L363.4 460.6 L363.7 461.9 L363.9 463.6 L364.4 465.1 L364.9 466.8 L367.6 469.1 L369.3 469 L371.5 469.8 L373 471.1 L374.7 470.7 L376.4 469.6 L378.1 469.1 L379.9 468.4 L381.5 468.2 L383.1 467.4 L385 466.8 L386.7 466.8 L389 466.6 L390.8 469.1 L392.1 472 L394.9 472.5 L396.6 473.7 L398.5 474.6 L400.4 475.5 L401.7 476.8 L402.7 478.3 L403.6 480.3 L404.5 481.9 L405.7 483.8 L406.8 485.7 L407.9 487.4 L409.8 489 L411.1 490 L413 490.9 L414.9 491.2 L416.9 492.1 L419 492.5 L420.8 493.3 L422.7 494.7 L423.8 496.1 L425.8 497.7 L426.3 499.6 L427.6 501.3 L427.3 503.3 L427.6 505.3 L425.8 507.6 L422.7 508.7 L420.8 509.6 L419.5 510.9 L417.6 512.2 L416.1 513.5 L414.5 514 L412.7 515.3 L410.7 516.1 L409 516.9 L406.6 517.6 L404.7 518.1 L402.9 518.4 L401.2 518 L399.6 517.8 L397.5 517.3 L395.4 517.8 L393.7 518.3 L391.6 519.2 L389.9 520.2 L388.8 522.3 L387.1 523.8 L385.3 523.1 L383.5 521.9 L382 520.5 L380.2 519.6 L378.2 518.7 L376 518 L374 518.5 L371.5 518.6 L368.6 518.3 L366.1 518.2 L363.9 518.4 L361.5 518.1 L359.4 517.9 L357.4 516.8 L355.4 515.7 L353.5 514.7 L352.1 513.3 L349.8 511.8 L348.1 510.9 L346.4 509.3 L344.5 508.5 L342.7 507.8 L340.8 505.1 L339.7 503.2 L338.6 501.1 L337.7 500 L336.4 499 L335 497.7 L333.4 497 L331.5 496.6 L329.8 495.9 L328.2 494.6 L326.3 493.7 L324.5 492.8 L322.2 492.3 L321.1 491.3 L319.1 491.4 L317.4 490.8 L315.8 489.3 L314.2 488.3 L312.3 487 L311 486.4 L309.3 485.7 L307.2 485 L306 482.7 L305.1 481 L303.7 479.6 L302.1 479.9 L300.1 480.3 L298.3 479.9 L296 479 L294.1 479 L292.7 479 L291 478.4 L289 478 L287.3 477.2 L285.1 476.9 L282.7 476.6 L280.4 478.1 L278.9 479.5 L276.1 481.5 L275.1 480 L273.4 479.9 L271 479.5 L269.4 478.3 L267.4 477.4 L265.2 477.4 L262.5 476.7 L259.8 476.5 L257.6 476.2 L255 478.4 L252.4 476.3 L251.1 475.8 L249.2 475.4 L247.3 475.3 L246.1 474.5 L244.2 473.6 L242.4 473.4 L240.8 472.3 L239.2 471.2 L237.5 470 L235.5 468.4 L233.6 467.1 L231.6 465.4 L230 464 L228.9 462.9Z"/>
<path stroke-width="1.35" d="M327.4 444 L329.1 444.6 L330.8 445.7 L331.7 447.5 L332.5 449.7 L332.6 451.5 L332.6 453.7 L331.3 455.6 L330.4 456.9 L328.8 458.2 L327.5 458.8 L326.2 460.5 L324.9 462.1 L324.7 463.7 L324.5 465.7 L323.9 467.4 L323.9 469.2 L320.9 470.9 L318.6 471.1 L316.1 470.9 L314.1 471.5 L311.7 471.7 L310.4 474.6 L312.3 477.2 L314.4 478.9 L312.9 482 L312.1 484.7 L309.7 484.7 L307.5 485.1"/>
<path stroke-width="1.3" d="M350.4 525.4 L352 524.4 L353.9 524.5 L352.3 525.7Z"/>
<path stroke-width="1.3" d="M356.2 524.1 L359 523.2 L362.5 523.2 L361.9 525.1 L357.5 525.3Z"/>
<path stroke-width="1.35" d="M516.2 545 L519.2 543.9 L521.7 542.2 L523 541.5 L524.5 540.3 L526.7 538.8 L529.5 536.4 L531 535.7 L532.3 534 L535.5 532.9 L537.3 533 L539.6 532.7 L541.8 532.8 L543.5 533 L545.9 533.1 L548.2 534.9 L548 538.1 L546.8 541 L544.7 543.2 L542.9 544.1 L541.5 545.1 L539.7 546.1 L538.2 547 L536.5 547.5 L534.5 548.6 L532.6 548.7 L530.8 549.3 L529 549.5 L527.3 549.7 L525.1 549 L523.2 548.9 L520.6 548.3 L517.6 547Z"/>
<path stroke-width="1.3" d="M497.5 549.5 L500.5 548.2 L503.8 547.5 L509.5 547.5 L507.3 549.2 L505 550.5 L498.8 550.8Z"/>
<path stroke-width="1.35" d="M772.7 440 L770.2 440.8 L768.2 441.5 L766.5 442.4 L764.3 443.1 L762.1 443.9 L760.1 444.5 L757.9 444.5 L755.3 444.6 L753.8 445.7 L752.3 446.9 L750.5 448.3 L748.8 449.8 L746.9 451.7 L744.7 453 L742.9 454 L741.1 455 L739.1 456.2 L737.5 456.8 L735.2 456.1 L734.4 458.3 L733.6 460.1 L732.1 461.2 L730.2 462.5 L728.4 463.9 L726.5 465.2 L724.6 466.5 L722.3 467.8 L722.3 469.5 L722.2 471.4 L722.6 473.1 L723.3 474.9 L722.5 476.8 L721.7 478.7 L718.6 480.3 L719.8 481.7 L720.4 483.2 L721 484.7 L721.1 486.7 L718.9 489 L716.9 489.6 L714.9 489.8 L713.6 491.4 L712.7 492.5 L712.5 494.4 L712.9 496.2 L713.2 498.1 L714 499.9 L715.8 501.9 L717 500.5 L719 499.2 L721 499.6 L723.5 499.5 L726.2 499.8 L727.9 499.8 L729.8 500.5 L732.1 501.3 L730.3 503.7 L729.2 505.2 L727.3 506.3 L725.4 507.2 L723 508 L720.9 508.5 L718.7 509.1 L717.3 509.9 L715.3 510.4 L713.6 511.4 L711.8 512.2 L709.2 512.6 L708.1 513.9 L706.8 515 L705.2 516.2 L703.8 517 L703.2 519.9 L702.7 522.9 L701.4 524.6 L700.4 526.5 L703 527.1 L705.4 526.2 L707.7 525.4 L709.5 526 L711.1 526 L713 527 L714.9 527.8 L717.7 527.2 L719.8 526.7 L722.4 527.2 L725.1 527.6 L727.4 527.2 L729.7 527.8 L731.7 527.2 L733.4 526.5 L734.8 526.3 L736.6 525.9 L738.6 525.5 L739.9 524.8 L741.7 524.4 L743.5 524.4 L745.1 523.8 L746.7 523.3 L748.2 522.3 L750.2 521.7 L751.5 521.3 L753.5 520.5 L755.2 519.8 L756.8 519.2 L758.3 518.3 L760.2 517.7 L762.1 515.8 L763.9 514.6 L765.4 513.3 L767.5 512 L769.1 511.3 L770.8 510.7 L772.7 510.2 L774.8 510.4 L777.4 510.5 L779.7 510.5 L781.7 511.2 L783.8 511.2 L785.8 511.2 L788.1 511.4 L790.2 511.8 L792 512 L794.4 511.7 L796 511.8 L797.7 511.4 L799.4 511.2 L801.3 510.6 L802.8 509.7 L804.4 509.1 L806.3 507.9 L807.9 506.9 L810.1 505.9 L811.1 504.4 L812.7 502.9 L813.9 501.8 L814.9 500.2 L816.4 499.5 L817.9 498.5 L819.3 497.1 L820.7 496.1 L822.3 495.2 L824.4 494.2 L825.8 493.3 L827.7 492.6 L829.3 491.5 L830.9 491 L832.5 489.9 L833.7 488.9 L835 487.6 L836.2 486.2 L837.3 484.2 L838.8 482.3 L840 481 L841.4 479.6 L843.1 477.8 L845.1 476 L846.8 475.1 L848.6 473.5 L850.5 472.7 L852.3 471.9 L854.2 471 L856.5 469.9 L857.3 468.6 L858.5 467.3 L858.6 465.8 L858.9 464 L857.9 460.5 L859.9 459.5 L861.2 458.8 L862.9 457.3 L865 456.1 L867.1 454.9 L868.9 453.9 L869.4 451.2 L868.9 449.1 L868 447.6 L866.3 445.6 L865.1 443.7 L863.9 442.7 L862.3 441.3 L861.5 439.9 L860.3 437.9 L858.6 436.5 L858 432.9 L860.2 430.4 L862.1 429.7 L863.7 429.2 L867 430.1 L868.2 430.9 L870.2 432.1 L873 431.3 L876 429.9 L879.6 429.6 L878.9 427.5 L878.7 425.4 L879.6 423.8 L880.1 421.9 L879.7 420 L879.3 418.4 L877.8 417.1 L876.4 415.5 L874.9 414.4 L873.3 413.4 L871 413.9 L870.2 416.8 L867.9 417.3 L866 417.7 L864.6 418.6 L862.4 419.4 L860.7 420 L858.9 420.6 L857 420.3 L855.1 419.6 L853 416.9 L853.9 413.9 L855.6 411.5 L852.6 412.3 L850.9 412.9 L849 413.1 L847.8 413.8 L846 414.6 L844.1 414.9 L842.7 415.8 L840.4 416.5 L838 417.2 L835.7 418.4 L833.5 419.4 L831.5 419.6 L829.1 420.2 L827.9 421.8 L826.4 423.5 L825 424.8 L823.1 425.5 L821.8 426.2 L820.3 426.7 L818.3 427.5 L816.7 428 L815.1 428.9 L813.1 429.4 L811.7 429.8 L809.8 429.9 L807.8 430.1 L805.8 430.7 L805 433.9 L804.4 435.3 L804.4 437.1 L803.6 438.9 L803.4 440.5 L803.3 442.7 L801.6 443.2 L799.9 444.4 L798.1 445.7 L796.2 447.5 L795 449.6 L793.7 452.2 L792.9 455.3 L790.1 456.3 L787.9 456.4 L785.6 456.9 L786.2 455.2 L785.6 452.5 L785.2 450.6 L783.6 449.5 L782.6 447.8 L780.5 447.3 L778.8 446.1 L776.9 447.3 L774.7 448.3 L773.3 449.3 L771.3 450.5 L769.2 450.3 L767.7 449.6 L765.7 447.8 L763.9 446.3 L761.6 445.3 L760 444.4"/>
<path stroke-width="1.35" d="M707.5 512.8 L709.4 512.7 L711.3 512.2 L713.2 511 L715 510.6 L717.4 510.2 L719.5 509.8 L721.4 511.9 L723 513.7 L721.3 516.2 L718.9 518.2 L717.2 518.8 L715.6 519.6 L713.5 521.9 L711.6 521.2 L711 517.9 L709.5 517.1 L708.4 515.1Z"/>
<path stroke-width="1.35" d="M755.3 444.5 L757.3 444.4 L759.6 444.9 L761.3 445 L762.7 446.5 L764.5 447.8 L766.1 448.6 L767.7 450 L769 451.2 L770.1 452.2 L770.3 454.2 L770.7 456.2 L769.6 459.3 L770 462.4 L768.1 463.1 L766 463.6 L764 464.8 L762.1 466 L761 468.2 L760.5 470 L761.1 471.9 L761.9 473.8 L763 474.8 L764.2 476 L764.3 478.1 L764.4 480 L765.2 481.8 L766.1 483.1 L766.7 485.4 L766.7 487.3 L766 489.1 L765.4 491.2 L765.8 492.9 L766.1 494.9 L768 495.8 L770.2 497.2 L771.3 498.5 L772.3 500.2 L773.7 501.6 L774.9 503.8 L776.5 505.3 L777.7 507.4 L778.8 510.6"/>
<path stroke-width="1.35" d="M770.9 456.2 L772.8 457 L775.2 457.2 L777.1 458.9 L778.8 460.2 L780.6 461 L782 461.4 L783.5 462.7 L785.5 463.3 L787 464.1 L789 465 L791 465.1 L793 465.2 L795.2 465.6 L796.9 465.9 L799 466 L801 466.3 L803.4 467.4 L805.2 468.7 L806.5 469.9 L808.2 471 L810.3 470.3 L812.6 469.2 L814.1 468.7 L815.6 467.5 L817.6 466.9 L819.2 466.5 L820.9 465.8 L822.4 464.9 L825.5 464.6 L828.2 464.3 L829.4 463.7 L831.4 463.2 L833.9 461.5 L834.5 459.5 L834.9 457.2 L835.7 455.9 L836.1 453.6 L837 451.8 L837.6 449.6 L839 447.7 L840.1 446.2 L841 445.2 L842.4 443.6 L843.8 441.9 L844.8 440 L844.9 438.2 L844.8 436.1 L844.3 434.4 L843.5 432.7 L842.8 431.4 L842 429.8 L841.8 428.1 L841.4 426 L840.7 424.8 L840.1 423 L839.8 421.4 L839.2 419.3 L838.8 417.5"/>
<path stroke-width="1.3" d="M825.6 466.2 L830 468.8 L833.8 468.1 L836.2 465.6 L838.8 466.9 L840 470 L840 475 L838.8 481.2"/>
<path stroke-width="1.35" d="M684 521.7 L685.2 518.5 L686.6 517.8 L687.8 517.1 L689.6 515.2 L690.6 513.6 L691.9 512 L692.9 510.2 L695.4 509.1 L697.3 507.9 L699.9 508.2 L701.4 511 L703.9 511.6 L703.2 513.8 L699.7 515.2 L698.5 516.3 L697.7 517.8 L695.4 520 L695.4 522.9 L694.5 524.8 L694 526.3 L690.7 525.1 L688 523.1 L686.8 524.7 L685.6 526.4 L683.9 524.8Z"/>
<path stroke-width="1.3" d="M692 514 L694 512.5 L695.5 514 L694 516.5 L692.5 517Z"/>
<path stroke-width="1.35" d="M631.3 562.9 L633 562.1 L634.8 561.1 L636.6 560.8 L638.5 560.3 L639.8 559.7 L641.9 559.7 L643.3 558.9 L645.2 558.4 L647.4 558.1 L649.9 557.3 L652.2 557.4 L655.1 557 L656.8 555.7 L658.7 555.3 L660.5 553.5 L662.8 552.7 L664.2 551.7 L666.5 550.9 L668.3 550.4 L669.8 550.3 L671.3 548.5 L672.4 547.6 L673.7 546.1 L674.9 545.1 L677.1 543.5 L678.9 542.4 L680.6 541.4 L682.5 540.8 L684.3 540.1 L685.9 539.3 L687.5 538.5 L688.9 537.6 L690.4 537 L691 535.1 L692 533.5 L694.1 535.3 L696.9 537.4 L697.9 540 L695.7 542.2 L693.5 544.4 L692.4 546.7 L695.8 547.9 L696.3 549.7 L696.7 551.5 L694.8 553.8 L693.4 554.3 L691.1 554.6 L689.2 554.5 L687.3 555.1 L685.6 555.7 L683.7 556.4 L681.9 557.3 L679.7 557.9 L677.4 559.8 L676.3 563 L675.2 566.2 L671.7 567 L670.1 566.8 L668.3 566.3 L665.7 566.8 L663.9 567.4 L661.9 568.5 L660.2 569.4 L658 569.7 L656.5 570.2 L654.2 570.7 L652.4 571.1 L649.6 572.5 L647.9 573.3 L646.2 574.4 L644.6 575 L642.5 575.3 L640.6 575.3 L639 575.7 L635.4 574.9 L633.9 572.7 L633.9 569.3 L632.7 566Z"/>
<path stroke-width="1.3" d="M677.5 546.2 L680 545.2 L684.5 545.4 L683 546.8 L679 547.2Z"/>
<path stroke-width="1.3" d="M690.5 537.5 L693 536.5 L695.5 539 L694 542 L691.5 544.5 L690 542 L691.5 540Z"/>
<path stroke-width="1.3" d="M646.2 573.6 L649 572.6 L652.5 572.8 L651 574.6 L647.5 575Z"/>
<path stroke-width="1.3" d="M614.4 563.8 L617.5 564.4 L618.8 566.2 L616.2 565.6Z"/>
<path stroke-width="1.3" d="M625.6 562.7 L627.5 561.7 L629.4 562 L628 563.3Z"/>
<path stroke-width="1.3" d="M623 566.7 L624.5 566.1 L625.3 566.9 L623.8 567.4Z"/>
<path stroke-width="1.3" d="M636.2 577.5 L638.8 576.2 L640.2 578.8 L639.4 581.2 L636.9 580Z"/>
<path stroke-width="1.1" d="M286.2 60 L286.2 66.9 L287.5 71.2 L289.4 76.2 L293.8 77.5 L290 78.8 L288.8 82.5 L286.2 86.2 L284.4 90 L283.1 93.8 L286.9 95.6 L283.8 96.9 L280 95.6 L276.9 97.5 L275.6 101.2 L275 106.2 L273.1 110 L272.5 113.8 L273.1 118.8 L275 122.5 L278.1 125 L280 128.1 L280 131.9 L282.5 135 L285.6 135.6 L287.5 132.5 L289.4 131.2 L291.2 134.4 L294.4 135.6 L296.9 138.1 L295 140 L292.5 138.1 L293.1 135.6 L296.5 137 L300 138.8 L303.8 139.4 L304.4 141.9 L308.8 143.8 L313.8 144.4 L318.1 144 L321.9 141.9 L324.4 140 L327.5 136.2 L330.6 133.1 L333.1 131.2 L337.5 132.2 L340 132.5 L345 133.8 L350 134.8 L355 134.4 L360 132.5 L365 130.6 L370 129.4 L373.8 128.1 L376.9 129.4 L379.4 132.5 L381.9 135 L385 136.2 L388.1 136.9 L387.5 135 L386.2 130.6 L386.2 126.2 L384.4 122.5 L382.5 118.8 L381.9 115 L378.8 113.1 L375.6 110 L373.1 106.2 L370 101.9 L368.1 98.1 L369.4 93.8 L370 88.8 L371.2 83.8 L370.6 80 L371.2 75.6 L375 73.1 L380 72.5 L380 66.9 L380 60"/>
<path stroke-width="1.1" d="M380 89.4 L383.8 91.2 L383.1 95 L380 96.9"/>
<path stroke-width="1.1" d="M389.4 147.5 L391.6 150.5 L393.5 153.8 L394.7 158 L395.6 162.1 L396.8 166.3 L397.7 170.4 L398.3 176.7 L396.7 182.9 L395.6 189.2 L394.6 195.4 L392.5 201.7 L390.4 209 L388.3 203.8 L387.9 197.5 L386.2 193.3 L386.7 187.1 L386.2 178.8 L386.7 170.4 L386.2 162.1 L387.3 153.8Z"/>
<path stroke-width="1.1" d="M381.2 181.2 L383 178.5 L385 177.5 L386.2 182.5 L384.5 184.2 L382.5 185Z"/>
<path stroke-width="1.1" d="M383.8 216.8 L385.6 216.2 L385.3 221 L384.9 226.3 L383.9 226.3 L383.6 221Z"/>
<path stroke-width="1.1" d="M403.8 251.2 L407.5 252.5 L412.5 255.6 L417.5 257.5 L421.2 256.2 L421.9 259.4 L418.8 261.2 L413.8 261.2 L410 262.5 L406.2 261.2 L403.8 258.8 L402.5 255Z"/>
<path stroke-width="1.1" d="M395.5 256.3 L398 256.8 L400 258.5 L402 259.5 L400.5 260.3 L397.5 258.5Z"/>
<path stroke-width="1.1" d="M422.5 273 L426.2 272 L435 273.8 L445 275 L450.6 276.2 L447.5 278 L440 278 L431.2 276.2 L423.8 275Z"/>
<path stroke-width="1.1" d="M451.9 276.2 L455 276.2 L461.2 280 L455 283 L451.9 282.5 L453 279.4Z"/>
<path stroke-width="1.1" d="M420.6 233 L423 233 L424.4 236.2 L422.5 240.6 L421.2 237.5Z"/>
<path stroke-width="1.1" d="M500 60 L500 66.9 L503.8 68.5 L508.8 68.8 L512.5 71.2 L516.2 73.8 L521.2 73.1 L526.2 72.5 L531.2 73.8 L536.2 75.6 L541.2 76.9 L546.2 77.5 L551.2 76.9 L555 75.6 L558.1 73.1 L561.2 71.9 L563.1 71.2 L560 70 L556.2 68.8 L553.8 66.9 L553.8 60"/>
<path stroke-width="1.1" d="M523.8 108.1 L526.2 107.5 L527.5 103.8 L528.8 100 L531.2 96.2 L533.8 93.1 L536.9 90.6 L539.4 93.1 L542.5 91.2 L545 92.5 L546.2 96.2 L548.8 98.1 L551.9 100 L554.4 103.1 L555.6 105.6 L553.8 108.1 L555 111.2 L553.1 115 L552.5 118.8 L552.5 122.5 L551.9 125 L547.5 125.6 L543.8 126.2 L541.9 124.4 L541.2 121.2 L538.8 118.8 L535 116.2 L531.9 113.1 L528.8 110 L526.2 108.8Z"/>
<path stroke-width="1.1" d="M546.9 128.8 L551.2 126.9 L556.9 125 L557.5 126.5 L552.5 128.1 L547.5 129.8Z"/>
<path stroke-width="1.1" d="M585.2 60 L585.2 67 L582.9 69.9 L581.2 72.7 L582.4 76 L584 79.4 L586.3 82.2 L587.4 86.2 L588 90.1 L589.7 92.9 L585.8 94 L581.8 95.2 L580.7 99.1 L580.1 103.6 L579 107.6 L576.8 110.4 L575.6 113.8 L576.2 117.1 L579 118.8 L583.5 118.2 L586.9 116.5 L588 114.9 L586.9 113.2 L589.7 112.6 L593.6 112 L597 110.9 L599.8 110.4 L599.2 113.2 L597.6 116.5 L595.3 119.4 L591.9 119.4 L589.1 117.7 L586.9 116.5"/>
<path stroke-width="1.1" d="M599.8 110.4 L602 108.7 L603.8 108.1 L603.2 111.5 L602.6 114.9 L601.5 118.2 L602.6 121 L604.9 122.2 L607.7 121 L609.4 119.4 L608.8 117.1 L611 116 L613.3 114.9 L615 112 L615 109.2 L613.3 107 L610.5 106.4 L608.2 107 L609.9 104.8 L612.2 103 L609.9 102.5 L609.4 100.2 L610.5 96.9 L612.8 93.5 L615.6 90.7 L618.9 88.4 L622.3 85.6 L625.1 83.4 L627.4 81.1 L627.9 77.8 L626.2 75.5 L624 73.2 L625.1 69.9 L625.7 67 L625.7 60"/>
<path stroke-width="1.1" d="M637.5 60 L637.5 67 L636.4 69.9 L634.1 72.7 L633.5 76 L634.1 78.9 L631.9 81.7 L631.3 84.5 L630.8 87.9 L629.6 91.2 L627.9 94.6 L626.2 98 L625.1 101.4 L622.9 104.8 L620.6 108.1 L618.4 111.5 L616.1 114.3 L614.4 117.7 L613.3 120.5 L615 122.2 L614.4 123.3 L611.6 123.9 L608.8 124.4 L606.5 126.7 L606 129.5 L607.7 132.3 L608.8 135.7 L610.5 139 L612.8 141.9 L615 143.5 L617.8 142.4 L620 139.6 L622.3 137.9 L623.4 140.8 L622.9 143 L625.1 142.4 L626.2 139.6 L627.4 142.4 L629.6 143.5 L632.4 142.4 L635.2 139.6 L638 136.8 L640.3 134 L641.4 131.2 L640.3 128.9 L637.5 128.4 L635.8 126.7 L637.5 124.4 L640.3 122.8 L644.2 121 L647.6 119.9 L650.6 118.9 L652.5 121.4 L654.4 122.6 L658.8 120.8 L663.8 118.9 L667.5 115.8 L671.2 113.2 L674.4 110.8 L675.6 108.9 L672.5 107 L669.4 105.1 L666.2 102.6 L663.1 100.8 L660 98.9 L656.2 97.6 L653.1 98.9 L650 101.4 L646.9 103.9 L645 102.6 L643.8 100.8 L646.9 98.2 L648.8 95.8 L649.4 92 L648.8 88.9 L646.9 86.4 L648.8 82.6 L651.9 80.1 L652.5 76.4 L651.9 72.6 L653.8 70.1 L655.6 68.9 L658.8 67.6 L663.8 67 L666.9 68.9 L664.4 72.6 L660 73.5 L656.9 72.6 L655.6 70"/>
<path stroke-width="1.1" d="M670.6 60 L670.6 67.6 L671.2 71.4 L672.5 75.1 L674.4 74.5 L673.8 70.8 L673.1 67.6 L673.1 60"/>
<path stroke-width="2.0" d="M618 113 L620.5 109 L623 105.5 L624.5 103.5 L623.5 106.5 L621 110.5 L619 113.5Z"/>
<path stroke-width="1.1" d="M626.8 104.2 L628.5 101.9 L631.3 101.4 L632.4 103.6 L630.8 105.9 L627.9 107 L626.2 105.9Z"/>
<path stroke-width="1.1" d="M597 129.5 L599.2 127.8 L601.5 128.4 L600.9 131.2 L598.7 132.3 L597 130.6Z"/>
<path stroke-width="1.1" d="M595.3 143 L598.1 140.8 L600.4 138.5 L603.2 137.4 L605.4 138.5 L605.4 141.3 L603.2 143 L599.8 143.5 L597 143.5Z"/>
<path stroke-width="1.1" d="M626.5 88 L628.5 85.5 L630 84.5 L629.5 88 L628 91.5 L626.5 92Z"/>
<path stroke-width="1.1" d="M706.2 108.9 L708.1 106.4 L712.5 105.8 L716.9 107.6 L719.4 110.1 L719.8 113.2 L718.8 117 L715.6 118.2 L712.5 117 L710 115.1 L708.1 112Z"/>
<path stroke-width="1.1" d="M700.6 113.9 L702.5 112.6 L706.2 115.1 L708.8 117 L706.2 117.6 L702.5 116.4Z"/>
<path stroke-width="1.1" d="M713.8 118.9 L717.5 118.2 L719.4 120.8 L716.2 122 L713.8 120.8Z"/>
<path stroke-width="1.1" d="M724.4 125.1 L727.5 125.1 L731.2 128.2 L735 131.4 L738.8 132 L741.9 130.1 L743.8 132 L743.1 134.5 L739.4 135.1 L735.6 135.8 L732.5 133.9 L729.4 130.8 L726.2 127.6Z"/>
<path stroke-width="1.1" d="M745 149.5 L746.2 146.4 L750 145.1 L754.4 146.4 L756.9 148.9 L755 150.8 L750.6 151 L746.9 151.4Z"/>
<path stroke-width="1.1" d="M746.2 152.6 L748.8 152 L750.6 153.2 L748.8 154.5 L746.5 153.9Z"/>
<path stroke-width="1.1" d="M753.8 158.8 L757 158.9 L760 160 L762.3 163 L763.8 166.2 L764.2 169 L763.8 171.2 L761 170.3 L758.8 168.8 L756 166.5 L753.8 163.8 L753.2 161Z"/>
<path stroke-width="1.1" d="M617.5 183.5 L620 183.2 L623.8 184.6 L622 186 L619 185.5Z"/>
<path stroke-width="1.0" d="M942.5 333.8 L946.2 331.9 L945.6 327.5 L944.4 322.5 L947.5 320 L950.6 316.2 L950 314.4 L954.4 312.5 L956.9 308.1 L955 306.2 L959.4 305 L963.1 305 L964.4 307.5 L970 308.1 L976.2 310 L982.5 310.6 L988.8 308.1 L993.8 307.5 L998.8 307.5 L1003.8 304.4 L1008.8 302.5 L1013.8 300 L1020 298.8 L1026.2 297.5 L1030 296.9 L1031.2 300 L1035 302.5 L1040 305 L1045 305.6 L1048.8 305 L1051.2 308.1 L1051.9 311.2 L1050 313.1 L1045 312.5 L1040 312.5 L1033.8 313.8 L1027.5 316.2 L1022.5 318.8 L1018.8 321.9 L1016.9 326.2 L1015 330 L1013.1 331.2 L1010 328.8 L1005 327.5 L998.8 326.9 L992.5 326.2 L987.5 326.9 L982.5 326.9 L978.8 324.8 L972.5 324.4 L966.2 325 L960 326.9 L953.8 329.4 L948.8 331.9 L944.4 334.4Z"/>
<path stroke-width="1.0" d="M935.6 331.2 L938.8 330.6 L939.4 334.4 L937.5 338.1 L936.2 335.6Z"/>
<path stroke-width="0.9" d="M855.6 411.6C855.2 410 859.5 408.2 861.2 406.2C863 404.3 864.7 401.9 866.2 400C867.8 398.1 869.9 396.3 870.6 395C871.3 393.7 870.9 392.4 871.2 391.2C871.6 390.1 871.9 389 872.5 388.1C873.1 387.2 873.9 386.5 875 386C876.1 385.5 878.1 385.1 880 384.8C881.9 384.4 888.3 383.2 892.5 382.5C896.7 381.8 900.8 381.2 905 380.6C909.2 380 913.3 379.3 917.5 378.8C921.7 378.2 927.6 377.9 930 377.5C932.4 377.1 934.2 376.2 936.2 375.6C938.3 375 940.6 374.3 942.5 373.8C944.4 373.2 945.6 372.6 947.5 372.5C949.4 372.4 951.7 372.8 953.8 373.1C955.8 373.4 958.1 373.9 960 374.4C961.9 374.9 963.1 375.9 965 376.2C966.9 376.6 969.2 376.4 971.2 376.2C973.3 376.1 975.4 375.9 977.5 375.6C979.6 375.3 981.7 374.9 983.8 374.4C985.8 373.9 987.9 373.2 990 372.5C992.1 371.8 994.4 370.7 996.2 370C998.1 369.3 999.6 368.8 1001.2 368.5C1002.9 368.2 1004.6 368 1006.2 368.1C1007.9 368.2 1009.6 368.5 1011.2 369C1012.9 369.5 1014.8 370.6 1016.2 371.2C1017.7 371.9 1018.8 372.8 1020 373.1C1021.2 373.4 1022.3 373.3 1023.8 373.1C1025.2 372.9 1026.9 372.4 1028.8 371.9C1030.6 371.4 1034.6 370.2 1037.5 369.3C1040.4 368.4 1043.3 367.7 1046.2 366.7C1049.2 365.7 1052.4 364.2 1055 363.2C1057.6 362.2 1059.7 361.4 1062 360.9C1064.3 360.4 1066.3 360.1 1069 360C1071.7 359.9 1076 360.1 1079.5 360.2C1083 360.3 1087.2 360.3 1090 360.9C1092.8 361.5 1095.4 363.2 1097 364C1098.6 364.8 1100.5 365.7 1100.9 366.7C1101.3 367.7 1100.6 369.2 1099.6 370.2C1098.6 371.2 1095.7 373.1 1093.5 374.5C1091.3 375.9 1088.8 377.4 1086.5 378.9C1084.2 380.4 1081.5 382 1079.5 383.3C1077.5 384.6 1075.7 385.8 1074.3 386.8C1072.9 387.8 1072.3 388.8 1070.8 389.4C1069.3 390 1065.2 391.2 1062 392C1058.8 392.8 1055 393.5 1051.5 394.1C1048 394.7 1044.5 394.8 1041 395.5C1037.5 396.2 1033.3 397.2 1030.5 398.2C1027.7 399.2 1024.9 400.9 1023.5 401.7C1022.1 402.5 1021.3 403.3 1020 404.3C1018.7 405.3 1016.7 406.8 1015 408C1013.3 409.2 1012.3 411.1 1010 411.8C1007.7 412.4 1001.2 413 997 413.5C992.8 414 989.4 413.3 985 414.5C980.6 415.7 974.6 419 970 421C965.4 423 962.5 424.8 957.5 426.2C952.5 427.7 945.4 428.5 940 429.5C934.6 430.5 930 431.5 925 432.5C920 433.5 911.9 435.2 910 435.6C908.1 436 906.9 436.4 905 436.9C903.1 437.4 900.8 437.8 898.8 438.8C896.7 439.7 894.6 441 892.5 442.5C890.4 444 888.1 446.2 886.2 447.5C884.4 448.8 883.1 450 881.2 450.6C879.4 451.2 876.5 451.3 875 451.2C873.5 451.2 872.5 450.8 871.2 450C870 449.2 868.8 447.8 867.5 446.2C866.2 444.7 864 441.9 862.5 440C861 438.1 859.2 436.4 858.8 435C858.3 433.6 859 432.3 860 431.2C861 430.2 863.1 429.8 865 428.8C866.9 427.7 869.2 426.2 871.2 425C873.3 423.8 877.5 422.3 877.5 421.2C877.5 420.2 873.5 419.7 871.2 418.8C869 417.8 866.4 416.8 863.8 415.6C861.1 414.4 856 413.2 855.6 411.6Z"/>
<path stroke-width="0.8" d="M760 443.1 L772.5 438.8 L785 434.8 L802.5 430.6 L800 436.2 L796.2 445 L791.9 453.8 L786.9 453.1 L780 449.4 L772.5 447.5 L765 445.6 L760 443.8Z"/>
<path stroke-width="1.0" d="M1102.3 301.9 L1104 297.5 L1106.7 292.2 L1111 291.9 L1115.4 294.9 L1119.8 294 L1119.8 297.5 L1115.4 299.2 L1111.9 299.2 L1110.2 302.8 L1106.7 304.9 L1103.2 303.6Z"/>
<path stroke-width="1.0" d="M1129.4 296.6 L1132 299.2 L1134.7 300.1 L1132 302.4 L1130.3 299.2Z"/>
<path stroke-width="1.0" d="M1131.5 350.9 L1135.5 347.4 L1140.8 346.2 L1146 347.4 L1146.9 350 L1142.5 352.1 L1135.5 353.2 L1132 351.8Z"/>
<path stroke-width="1.0" d="M1185 345.5 L1171.6 345.1 L1163.5 343.9 L1154.8 342.1 L1148.7 343 L1149.5 345.6 L1152.2 348.3 L1158.3 350.4 L1165.3 352.1 L1171.6 354.4 L1185 355"/>
<path stroke-width="0.9" d="M95 101.2 L98.8 103.2 L96.4 105.6Z"/>
<path stroke-width="1.0" d="M119.8 105.8 L120.6 106 L120.8 110.2 L120 110.2Z"/>
<path stroke-width="0.9" d="M123.6 116.2 L125.2 116.8 L126.6 119.6 L125.6 120.4 L124.2 118.6Z"/>
<path stroke-width="1.0" d="M146.2 96 L147.4 96.4 L147.6 97.8 L146.4 97.6Z"/>
<path stroke-width="1.1" d="M519.3 275 L522 272.7 L524.7 273.3 L524.3 274.7 L521.3 275Z"/>
<path stroke-width="1.0" d="M521.3 283 L522.3 280 L525.3 278.3 L529.3 278 L531.3 279.7 L531.3 281.7 L529.3 284 L526 285.7 L522.7 286 L521.3 284.3Z"/>
<path stroke-width="1.0" d="M518.7 291.5 L522.7 291 L526.7 290 L527.7 291 L525.3 291.7 L520 292Z"/>
</g>
<g fill="#000">
<circle cx="521.7" cy="269.8" r="0.9"/>
<circle cx="556.8" cy="285.9" r="0.8"/>
<circle cx="265.2" cy="126.8" r="3.1"/>
<circle cx="259.6" cy="122.6" r="0.9"/>
<circle cx="256.2" cy="119.4" r="0.7"/>
<circle cx="122.5" cy="90.5" r="0.8"/>
<circle cx="118.8" cy="100" r="0.9"/>
<circle cx="146.8" cy="96.8" r="1"/>
<circle cx="175.8" cy="119.5" r="1"/>
<circle cx="178.8" cy="127.5" r="0.8"/>
<circle cx="197" cy="126.8" r="0.8"/>
<circle cx="244" cy="88" r="0.6"/>
<circle cx="247" cy="92" r="0.6"/>
<circle cx="250" cy="84" r="0.5"/>
<circle cx="256" cy="78" r="0.5"/>
<circle cx="262" cy="72" r="0.5"/>
<circle cx="268" cy="70" r="0.5"/>
<circle cx="271" cy="76" r="0.5"/>
<circle cx="263" cy="83" r="0.6"/>
<circle cx="266" cy="87" r="0.5"/>
<circle cx="270" cy="90" r="0.5"/>
<circle cx="265" cy="93" r="0.5"/>
<circle cx="269" cy="96" r="0.5"/>
<circle cx="272" cy="81" r="0.5"/>
<circle cx="277" cy="80" r="0.6"/>
<circle cx="274" cy="72" r="0.5"/>
<circle cx="279" cy="71" r="0.5"/>
<circle cx="262" cy="98" r="0.7"/>
<circle cx="258" cy="80" r="0.5"/>
<circle cx="282" cy="68" r="0.5"/>
<circle cx="272" cy="86" r="0.5"/>
<circle cx="276" cy="93" r="0.5"/>
<circle cx="255.5" cy="118.5" r="0.7"/>
<circle cx="259" cy="122.5" r="0.7"/>
<circle cx="383.8" cy="139.4" r="0.9"/>
<circle cx="389.4" cy="141.9" r="0.7"/>
<circle cx="384" cy="199" r="0.6"/>
<circle cx="384.5" cy="207.5" r="0.7"/>
<circle cx="368.5" cy="225.5" r="0.6"/>
<circle cx="440" cy="203" r="0.6"/>
<circle cx="444" cy="209" r="0.6"/>
<circle cx="452" cy="202" r="0.5"/>
<circle cx="457" cy="208" r="0.5"/>
<circle cx="449" cy="214" r="0.5"/>
<circle cx="455" cy="215" r="0.6"/>
<circle cx="441" cy="224" r="0.5"/>
<circle cx="444" cy="231" r="0.5"/>
<circle cx="446" cy="236" r="0.5"/>
<circle cx="441" cy="219" r="0.5"/>
<circle cx="442" cy="211" r="0.5"/>
<circle cx="449" cy="216" r="0.5"/>
<circle cx="444" cy="251" r="0.5"/>
<circle cx="450" cy="256" r="0.6"/>
<circle cx="455" cy="257" r="0.5"/>
<circle cx="466.5" cy="251" r="0.6"/>
<circle cx="470" cy="251" r="0.5"/>
<circle cx="213.8" cy="213.8" r="0.7"/>
<circle cx="217" cy="215" r="0.7"/>
<circle cx="220" cy="216.2" r="0.7"/>
<circle cx="224" cy="218.5" r="0.6"/>
<circle cx="227.5" cy="221.2" r="0.7"/>
<circle cx="229" cy="225" r="0.5"/>
<circle cx="231" cy="230" r="0.5"/>
<circle cx="233" cy="236" r="0.5"/>
<circle cx="235" cy="241" r="0.6"/>
<circle cx="237" cy="244" r="0.5"/>
<circle cx="246.2" cy="238.8" r="0.8"/>
<circle cx="250" cy="237" r="0.8"/>
<circle cx="254" cy="235.3" r="0.8"/>
<circle cx="215" cy="248.8" r="0.6"/>
<circle cx="219" cy="245.5" r="0.6"/>
<circle cx="223" cy="242.5" r="0.6"/>
<circle cx="225.5" cy="241" r="0.5"/>
<circle cx="157.5" cy="225.5" r="0.8"/>
<circle cx="160" cy="224.7" r="0.8"/>
<circle cx="165" cy="221.2" r="0.7"/>
<circle cx="130" cy="256.2" r="0.7"/>
<circle cx="136.2" cy="253.8" r="0.7"/>
<circle cx="147.5" cy="257.5" r="0.8"/>
<circle cx="149.5" cy="259" r="0.6"/>
<circle cx="156.2" cy="258.8" r="0.6"/>
<circle cx="160" cy="263.2" r="0.6"/>
<circle cx="151.2" cy="266.8" r="0.6"/>
<circle cx="171" cy="266.2" r="0.8"/>
<circle cx="173.5" cy="265.8" r="0.8"/>
<circle cx="132" cy="268.5" r="0.5"/>
<circle cx="142.5" cy="275.5" r="0.8"/>
<circle cx="198.8" cy="256.2" r="0.7"/>
<circle cx="82.1" cy="279" r="0.6"/>
<circle cx="88.2" cy="283.9" r="0.6"/>
<circle cx="101.4" cy="283.4" r="0.5"/>
<circle cx="105.8" cy="280.8" r="0.7"/>
<circle cx="108" cy="282" r="0.6"/>
<circle cx="111" cy="284.2" r="0.6"/>
<circle cx="118" cy="288.6" r="0.7"/>
<circle cx="119.8" cy="294.8" r="0.5"/>
<circle cx="129.4" cy="294.8" r="0.7"/>
<circle cx="46.2" cy="292.1" r="0.8"/>
<circle cx="55" cy="294.4" r="0.8"/>
<circle cx="58" cy="294.6" r="0.8"/>
<circle cx="61" cy="294.3" r="0.8"/>
<circle cx="72.5" cy="294.4" r="0.8"/>
<circle cx="76.9" cy="290.9" r="0.7"/>
<circle cx="48" cy="300" r="0.5"/>
<circle cx="74.2" cy="299.1" r="0.7"/>
<circle cx="53" cy="300" r="0.5"/>
<circle cx="601" cy="368.4" r="1.3"/>
<circle cx="743.8" cy="369.1" r="0.9"/>
<circle cx="747" cy="369.5" r="0.7"/>
<circle cx="760.5" cy="348" r="0.8"/>
<circle cx="761.5" cy="351" r="0.8"/>
<circle cx="765" cy="352" r="0.8"/>
<circle cx="785.6" cy="372.9" r="1.2"/>
<circle cx="767.8" cy="364.8" r="0.9"/>
<circle cx="795" cy="348" r="0.7"/>
<circle cx="795" cy="351" r="0.9"/>
<circle cx="632" cy="399" r="0.5"/>
<circle cx="636" cy="385" r="0.5"/>
<circle cx="636.5" cy="388.5" r="0.6"/>
<circle cx="710" cy="505.4" r="1"/>
<circle cx="680.6" cy="523.8" r="0.8"/>
<circle cx="472.5" cy="565.8" r="0.9"/>
<circle cx="713.5" cy="316.2" r="1.3"/>
<circle cx="755.5" cy="436.5" r="0.6"/>
<circle cx="786" cy="110" r="0.6"/>
<circle cx="788.5" cy="112" r="0.7"/>
<circle cx="791" cy="113.8" r="0.7"/>
<circle cx="807" cy="145.5" r="0.7"/>
<circle cx="791" cy="152" r="0.6"/>
<circle cx="819" cy="178" r="1.1"/>
<circle cx="1150" cy="117.5" r="0.8"/>
<circle cx="1147.5" cy="115" r="0.7"/>
<circle cx="1149" cy="113.5" r="0.5"/>
<circle cx="1125" cy="127" r="0.9"/>
<circle cx="1122.5" cy="125.5" r="0.6"/>
<circle cx="1033" cy="221.2" r="0.9"/>
<circle cx="1098.2" cy="293.6" r="0.8"/>
<circle cx="1113.7" cy="302.8" r="0.6"/>
<circle cx="1125" cy="294.9" r="0.5"/>
<circle cx="1126.8" cy="296.1" r="0.5"/>
<circle cx="514" cy="85" r="0.6"/>
<circle cx="523.5" cy="112" r="0.6"/>
<circle cx="522" cy="115" r="0.5"/>
<circle cx="503" cy="73" r="0.5"/>
<circle cx="566" cy="73" r="0.6"/>
<circle cx="574" cy="76" r="0.6"/>
<circle cx="564" cy="84" r="0.5"/>
</g>
<text x="37.5" y="707" font-size="10.5" textLength="153" lengthAdjust="spacingAndGlyphs" stroke="#000" stroke-width="0.25">Sumber Data: WRF - CIPS BMKG</text>
<text x="37.5" y="719.8" font-size="12" textLength="217" lengthAdjust="spacingAndGlyphs" stroke="#000" stroke-width="0.55">Pusat Meteorologi Publik BMKG - 2021</text>
</g>
<rect x="27.2" y="66" width="1145.4" height="658.3" fill="none" stroke="#000" stroke-width="2"/>
<g stroke="#000" stroke-width="0.8">
<line x1="27.2" y1="65" x2="27.2" y2="63"/>
<line x1="131.3" y1="65" x2="131.3" y2="63"/>
<line x1="235.5" y1="65" x2="235.5" y2="63"/>
<line x1="339.6" y1="65" x2="339.6" y2="63"/>
<line x1="443.7" y1="65" x2="443.7" y2="63"/>
<line x1="547.8" y1="65" x2="547.8" y2="63"/>
<line x1="652" y1="65" x2="652" y2="63"/>
<line x1="756.1" y1="65" x2="756.1" y2="63"/>
<line x1="860.2" y1="65" x2="860.2" y2="63"/>
<line x1="964.3" y1="65" x2="964.3" y2="63"/>
<line x1="1068.5" y1="65" x2="1068.5" y2="63"/>
<line x1="1172.6" y1="65" x2="1172.6" y2="63"/>
<line x1="26.2" y1="86.3" x2="24" y2="86.3"/>
<line x1="26.2" y1="168.6" x2="24" y2="168.6"/>
<line x1="26.2" y1="250.9" x2="24" y2="250.9"/>
<line x1="26.2" y1="333.2" x2="24" y2="333.2"/>
<line x1="26.2" y1="415.5" x2="24" y2="415.5"/>
<line x1="26.2" y1="497.8" x2="24" y2="497.8"/>
<line x1="26.2" y1="580.1" x2="24" y2="580.1"/>
<line x1="26.2" y1="662.4" x2="24" y2="662.4"/>
</g>
<g font-size="8.7" stroke="#000" stroke-width="0.4">
<text x="18.7" y="62.1" textLength="17.4" lengthAdjust="spacingAndGlyphs">117E</text>
<text x="122.8" y="62.1" textLength="17.4" lengthAdjust="spacingAndGlyphs">118E</text>
<text x="227" y="62.1" textLength="17.4" lengthAdjust="spacingAndGlyphs">119E</text>
<text x="331.1" y="62.1" textLength="17.4" lengthAdjust="spacingAndGlyphs">120E</text>
<text x="435.2" y="62.1" textLength="17.4" lengthAdjust="spacingAndGlyphs">121E</text>
<text x="539.3" y="62.1" textLength="17.4" lengthAdjust="spacingAndGlyphs">122E</text>
<text x="643.5" y="62.1" textLength="17.4" lengthAdjust="spacingAndGlyphs">123E</text>
<text x="747.6" y="62.1" textLength="17.4" lengthAdjust="spacingAndGlyphs">124E</text>
<text x="851.7" y="62.1" textLength="17.4" lengthAdjust="spacingAndGlyphs">125E</text>
<text x="955.8" y="62.1" textLength="17.4" lengthAdjust="spacingAndGlyphs">126E</text>
<text x="1060" y="62.1" textLength="17.4" lengthAdjust="spacingAndGlyphs">127E</text>
<text x="1164.1" y="62.1" textLength="17.4" lengthAdjust="spacingAndGlyphs">128E</text>
</g>
<g font-size="8.7" stroke="#000" stroke-width="0.4">
<text x="12.9" y="89.3" textLength="9.4" lengthAdjust="spacingAndGlyphs">5S</text>
<text x="12.9" y="171.6" textLength="9.4" lengthAdjust="spacingAndGlyphs">6S</text>
<text x="12.9" y="253.9" textLength="9.4" lengthAdjust="spacingAndGlyphs">7S</text>
<text x="12.9" y="336.2" textLength="9.4" lengthAdjust="spacingAndGlyphs">8S</text>
<text x="12.9" y="418.5" textLength="9.4" lengthAdjust="spacingAndGlyphs">9S</text>
<text x="8.4" y="500.8" textLength="13.9" lengthAdjust="spacingAndGlyphs">10S</text>
<text x="8.4" y="583.1" textLength="13.9" lengthAdjust="spacingAndGlyphs">11S</text>
<text x="8.4" y="665.4" textLength="13.9" lengthAdjust="spacingAndGlyphs">12S</text>
</g>
<text x="33.4" y="26.3" font-size="21.8" textLength="96.3" lengthAdjust="spacingAndGlyphs">Prakiraan</text>
<text x="136.8" y="26.3" font-size="21.8" textLength="128.5" lengthAdjust="spacingAndGlyphs">Kelembapan</text>
<text x="273.6" y="26.3" font-size="21.8" textLength="57.6" lengthAdjust="spacingAndGlyphs">Udara</text>
<text x="340.8" y="26.3" font-size="21.8" textLength="75.8" lengthAdjust="spacingAndGlyphs">Lapisan</text>
<text x="422.7" y="26.3" font-size="21.8" textLength="39" lengthAdjust="spacingAndGlyphs">500</text>
<text x="468.9" y="26.3" font-size="21.8" textLength="37.3" lengthAdjust="spacingAndGlyphs">hPa</text>
<text x="33.5" y="40.3" font-size="11.5" textLength="132" lengthAdjust="spacingAndGlyphs" stroke="#000" stroke-width="0.3">Valid: 14 April 2026 00Z</text>
<text x="33.5" y="52.8" font-size="11.5" textLength="141.5" lengthAdjust="spacingAndGlyphs" stroke="#000" stroke-width="0.3">Data inisial: 12 April 2026 12Z</text>
<rect x="27.4" y="727.4" width="71.9" height="18.9" fill="#e23b30"/>
<rect x="99" y="727.4" width="71.9" height="18.9" fill="#a50f15"/>
<rect x="170.5" y="727.4" width="71.9" height="18.9" fill="#662506"/>
<rect x="242.1" y="727.4" width="71.9" height="18.9" fill="#993404"/>
<rect x="313.6" y="727.4" width="71.9" height="18.9" fill="#cc4c02"/>
<rect x="385.2" y="727.4" width="71.9" height="18.9" fill="#fe9929"/>
<rect x="456.8" y="727.4" width="71.9" height="18.9" fill="#fec44f"/>
<rect x="528.3" y="727.4" width="71.9" height="18.9" fill="#fee391"/>
<rect x="599.9" y="727.4" width="71.9" height="18.9" fill="#ffe100"/>
<rect x="671.5" y="727.4" width="71.9" height="18.9" fill="#f7f7f7"/>
<rect x="743" y="727.4" width="71.9" height="18.9" fill="#d1e5f0"/>
<rect x="814.6" y="727.4" width="71.9" height="18.9" fill="#92c5de"/>
<rect x="886.1" y="727.4" width="71.9" height="18.9" fill="#4393c3"/>
<rect x="957.7" y="727.4" width="71.9" height="18.9" fill="#2166ac"/>
<rect x="1029.3" y="727.4" width="71.9" height="18.9" fill="#053061"/>
<rect x="1100.8" y="727.4" width="71.6" height="18.9" fill="#2d004b"/>
<g stroke="#000" stroke-width="0.9" fill="none">
<rect x="27.4" y="727.4" width="1145" height="18.9" stroke-width="0.5"/>
<line x1="99" y1="727.4" x2="99" y2="746.3"/>
<line x1="170.5" y1="727.4" x2="170.5" y2="746.3"/>
<line x1="242.1" y1="727.4" x2="242.1" y2="746.3"/>
<line x1="313.6" y1="727.4" x2="313.6" y2="746.3"/>
<line x1="385.2" y1="727.4" x2="385.2" y2="746.3"/>
<line x1="456.8" y1="727.4" x2="456.8" y2="746.3"/>
<line x1="528.3" y1="727.4" x2="528.3" y2="746.3"/>
<line x1="599.9" y1="727.4" x2="599.9" y2="746.3"/>
<line x1="671.5" y1="727.4" x2="671.5" y2="746.3"/>
<line x1="743" y1="727.4" x2="743" y2="746.3"/>
<line x1="814.6" y1="727.4" x2="814.6" y2="746.3"/>
<line x1="886.1" y1="727.4" x2="886.1" y2="746.3"/>
<line x1="957.7" y1="727.4" x2="957.7" y2="746.3"/>
<line x1="1029.3" y1="727.4" x2="1029.3" y2="746.3"/>
<line x1="1100.8" y1="727.4" x2="1100.8" y2="746.3"/>
</g>
<g font-size="11.2" letter-spacing="0.5" text-anchor="middle" fill="#111" stroke="#111" stroke-width="0.4">
<text x="99.5" y="759.7">0</text>
<text x="171" y="759.7">0.5</text>
<text x="242.6" y="759.7">1</text>
<text x="314.1" y="759.7">2</text>
<text x="385.7" y="759.7">5</text>
<text x="457.3" y="759.7">10</text>
<text x="528.8" y="759.7">20</text>
<text x="600.4" y="759.7">30</text>
<text x="672" y="759.7">40</text>
<text x="743.5" y="759.7">50</text>
<text x="815.1" y="759.7">60</text>
<text x="886.6" y="759.7">70</text>
<text x="958.2" y="759.7">80</text>
<text x="1029.8" y="759.7">90</text>
<text x="1101.3" y="759.7">100</text>
</g>
<text x="527.5" y="785.5" font-size="12.3" textLength="145" lengthAdjust="spacingAndGlyphs">Kelembapan Udara (%)</text>
<g>
<clipPath id="lgclip"><circle cx="1162.4" cy="28.3" r="16.6"/></clipPath>
<g clip-path="url(#lgclip)">
<path fill="#1212cc" d="M1153.6 14.9 C1156 12.3 1159 11.6 1162.4 11.6 C1166 11.6 1169 12.4 1171.3 14.9 C1168 14.3 1165 14.1 1162.4 14.1 C1159.5 14.1 1156.5 14.3 1153.6 14.9Z"/>
<path fill="#1212cc" d="M1149 19.2 L1150.8 16.9 L1174.3 16.9 L1176 19.2 L1166 19.2 C1163.5 18.2 1160 18.1 1156.5 19.2 Z"/>
<path fill="#2a2ad4" d="M1147 22.6 L1148.3 20.8 C1150 20.3 1152.5 20.5 1153.7 21.2 L1153.5 22.4 C1151.5 21.6 1149 21.8 1147 22.6Z"/>
<path fill="#1212cc" d="M1164.8 21.2 C1168 20.4 1173 20.5 1177.3 20.9 L1178.6 23.6 L1179.2 26.8 L1177.2 26.4 C1176.5 24.8 1175 24 1172.5 24.3 L1173.5 23.2 C1171 22.2 1168 22 1165 22.6Z"/>
<rect x="1145" y="27.9" width="35" height="1.45" fill="#b9b3b3"/>
<path fill="#169616" d="M1146.3 31 L1154 31 L1156.2 33 L1178.4 33 L1177.7 35.5 L1161 35.5 L1159 36 L1147.6 36 L1146.6 33.1Z"/>
<path fill="#0f8a0f" d="M1149.3 37.9 L1160.5 37.9 L1162 36.9 L1176.6 36.9 L1175.5 38.7 L1164 38.7 L1161.5 39.6 L1150.3 39.6Z"/>
<path fill="#0f8a0f" d="M1152.3 41.4 L1163 41.4 L1164.5 40.2 L1174 40.2 L1172.5 41.8 L1166 41.8 L1164.5 43 L1154 43Z"/>
<path fill="#0f8a0f" d="M1156.5 43.4 L1164.8 43.4 L1166.5 44.9 L1159 44.9Z"/>
</g>
<text x="1162.4" y="52.9" font-size="8.2" font-weight="bold" text-anchor="middle" textLength="25" lengthAdjust="spacingAndGlyphs" stroke="#000" stroke-width="0.25">BMKG</text>
</g>

</svg></body></html>
